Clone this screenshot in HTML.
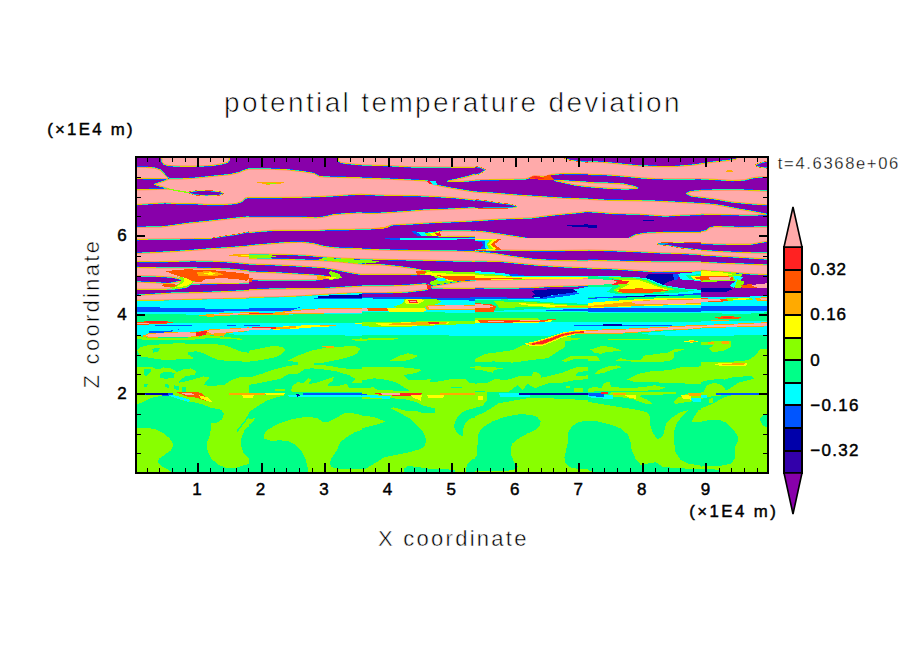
<!DOCTYPE html>
<html lang="en"><head><meta charset="utf-8"><title>potential temperature deviation</title>
<style>html,body{margin:0;padding:0;background:#fff}svg{display:block}text{font-family:"Liberation Sans",sans-serif;fill:#000}.thin{stroke:#fff;stroke-width:0.7px}.thinm{stroke:#fff;stroke-width:0.45px}.thin2{stroke:#fff;stroke-width:0.3px}.bold{stroke:#000;stroke-width:0.45px}</style></head><body>
<svg width="904" height="654" viewBox="0 0 904 654">
<rect width="904" height="654" fill="#fff"/>
<clipPath id="plotclip"><rect x="136" y="157" width="632" height="316"/></clipPath>
<g clip-path="url(#plotclip)" shape-rendering="crispEdges">
<clipPath id="c0"><rect x="0" y="0" width="113" height="82"/></clipPath>
<g transform="translate(136,156)" clip-path="url(#c0)">
<rect x="-1" y="-1" width="115" height="84" fill="#8800aa"/>
<polygon points="25.6,-2.5 26.2,5.6 28.1,8.1 32.5,9.4 43.8,10 60,10 75,9.4 85,7.8 91.2,6.3 93.1,3.8 93.1,-2.5" fill="#ffaaaa" stroke="#0055ff" stroke-width="2.4" stroke-linejoin="round"/>
<polygon points="25.6,-2.5 26.2,5.6 28.1,8.1 32.5,9.4 43.8,10 60,10 75,9.4 85,7.8 91.2,6.3 93.1,3.8 93.1,-2.5" fill="#ffaaaa" stroke="#00ffcc" stroke-width="1.7" stroke-linejoin="round"/>
<polygon points="25.6,-2.5 26.2,5.6 28.1,8.1 32.5,9.4 43.8,10 60,10 75,9.4 85,7.8 91.2,6.3 93.1,3.8 93.1,-2.5" fill="#ffaaaa" stroke="#ccff00" stroke-width="1.0" stroke-linejoin="round"/>
<polygon points="25.6,-2.5 26.2,5.6 28.1,8.1 32.5,9.4 43.8,10 60,10 75,9.4 85,7.8 91.2,6.3 93.1,3.8 93.1,-2.5" fill="#ffaaaa" stroke="#ff7700" stroke-width="0.5" stroke-linejoin="round"/>
<polygon points="-2.5,11.3 10,11.5 18.8,12.3 23.8,14 27.5,17.6 30.6,21.1 32.8,22.6 -2.5,22.2" fill="#ffaaaa" stroke="#0055ff" stroke-width="2.4" stroke-linejoin="round"/>
<polygon points="-2.5,11.3 10,11.5 18.8,12.3 23.8,14 27.5,17.6 30.6,21.1 32.8,22.6 -2.5,22.2" fill="#ffaaaa" stroke="#00ffcc" stroke-width="1.7" stroke-linejoin="round"/>
<polygon points="-2.5,11.3 10,11.5 18.8,12.3 23.8,14 27.5,17.6 30.6,21.1 32.8,22.6 -2.5,22.2" fill="#ffaaaa" stroke="#ccff00" stroke-width="1.0" stroke-linejoin="round"/>
<polygon points="-2.5,11.3 10,11.5 18.8,12.3 23.8,14 27.5,17.6 30.6,21.1 32.8,22.6 -2.5,22.2" fill="#ffaaaa" stroke="#ff7700" stroke-width="0.5" stroke-linejoin="round"/>
<polygon points="-2.5,34.1 33.8,33.2 28.8,31.3 18.8,28.3 27.5,25.7 33.1,23.2 43.8,23.2 60,22.3 75,20.7 93.8,18.8 102.5,16.9 108.8,14.4 115,12.5 115,40.7 108.8,42 106.2,45.1 100,47.4 87.5,48.3 71.2,48.3 58.8,47.4 41.2,47.4 28.8,46.6 12.5,47.6 -2.5,48.6" fill="#ffaaaa" stroke="#0055ff" stroke-width="2.4" stroke-linejoin="round"/>
<polygon points="-2.5,34.1 33.8,33.2 28.8,31.3 18.8,28.3 27.5,25.7 33.1,23.2 43.8,23.2 60,22.3 75,20.7 93.8,18.8 102.5,16.9 108.8,14.4 115,12.5 115,40.7 108.8,42 106.2,45.1 100,47.4 87.5,48.3 71.2,48.3 58.8,47.4 41.2,47.4 28.8,46.6 12.5,47.6 -2.5,48.6" fill="#ffaaaa" stroke="#00ffcc" stroke-width="1.7" stroke-linejoin="round"/>
<polygon points="-2.5,34.1 33.8,33.2 28.8,31.3 18.8,28.3 27.5,25.7 33.1,23.2 43.8,23.2 60,22.3 75,20.7 93.8,18.8 102.5,16.9 108.8,14.4 115,12.5 115,40.7 108.8,42 106.2,45.1 100,47.4 87.5,48.3 71.2,48.3 58.8,47.4 41.2,47.4 28.8,46.6 12.5,47.6 -2.5,48.6" fill="#ffaaaa" stroke="#ccff00" stroke-width="1.0" stroke-linejoin="round"/>
<polygon points="-2.5,34.1 33.8,33.2 28.8,31.3 18.8,28.3 27.5,25.7 33.1,23.2 43.8,23.2 60,22.3 75,20.7 93.8,18.8 102.5,16.9 108.8,14.4 115,12.5 115,40.7 108.8,42 106.2,45.1 100,47.4 87.5,48.3 71.2,48.3 58.8,47.4 41.2,47.4 28.8,46.6 12.5,47.6 -2.5,48.6" fill="#ffaaaa" stroke="#ff7700" stroke-width="0.5" stroke-linejoin="round"/>
<polyline points="32.8,33 41.2,34.7 50,36.2 54.5,36.9" fill="none" stroke="#88ff00" stroke-width="1.2" stroke-linejoin="round" stroke-linecap="round"/>
<polygon points="53.8,36.6 62.5,35.2 75,35.5 83.8,36.5 86.5,37.4 82.5,38.6 70,39.1 58.8,38.2" fill="#8800aa" stroke="#ff5500" stroke-width="2.4" stroke-linejoin="round"/>
<polygon points="53.8,36.6 62.5,35.2 75,35.5 83.8,36.5 86.5,37.4 82.5,38.6 70,39.1 58.8,38.2" fill="#8800aa" stroke="#eeff00" stroke-width="1.7" stroke-linejoin="round"/>
<polygon points="53.8,36.6 62.5,35.2 75,35.5 83.8,36.5 86.5,37.4 82.5,38.6 70,39.1 58.8,38.2" fill="#8800aa" stroke="#00ffcc" stroke-width="1.0" stroke-linejoin="round"/>
<polygon points="53.8,36.6 62.5,35.2 75,35.5 83.8,36.5 86.5,37.4 82.5,38.6 70,39.1 58.8,38.2" fill="#8800aa" stroke="#0044ff" stroke-width="0.5" stroke-linejoin="round"/>
<polygon points="-2.5,71.5 25,71.2 37.5,69.6 50,67.7 68.8,65.8 87.5,63.7 100,62.4 115,60.9 115,87.8 -2.5,87.8" fill="#ffaaaa" stroke="#0055ff" stroke-width="2.4" stroke-linejoin="round"/>
<polygon points="-2.5,71.5 25,71.2 37.5,69.6 50,67.7 68.8,65.8 87.5,63.7 100,62.4 115,60.9 115,87.8 -2.5,87.8" fill="#ffaaaa" stroke="#00ffcc" stroke-width="1.7" stroke-linejoin="round"/>
<polygon points="-2.5,71.5 25,71.2 37.5,69.6 50,67.7 68.8,65.8 87.5,63.7 100,62.4 115,60.9 115,87.8 -2.5,87.8" fill="#ffaaaa" stroke="#ccff00" stroke-width="1.0" stroke-linejoin="round"/>
<polygon points="-2.5,71.5 25,71.2 37.5,69.6 50,67.7 68.8,65.8 87.5,63.7 100,62.4 115,60.9 115,87.8 -2.5,87.8" fill="#ffaaaa" stroke="#ff7700" stroke-width="0.5" stroke-linejoin="round"/>
<polygon points="72.5,83.4 87.5,80.9 100,79.2 115,76 115,87.8 72.5,87.8" fill="#8800aa" stroke="#ff5500" stroke-width="2.4" stroke-linejoin="round"/>
<polygon points="72.5,83.4 87.5,80.9 100,79.2 115,76 115,87.8 72.5,87.8" fill="#8800aa" stroke="#eeff00" stroke-width="1.7" stroke-linejoin="round"/>
<polygon points="72.5,83.4 87.5,80.9 100,79.2 115,76 115,87.8 72.5,87.8" fill="#8800aa" stroke="#00ffcc" stroke-width="1.0" stroke-linejoin="round"/>
<polygon points="72.5,83.4 87.5,80.9 100,79.2 115,76 115,87.8 72.5,87.8" fill="#8800aa" stroke="#0044ff" stroke-width="0.5" stroke-linejoin="round"/>
</g>
<clipPath id="c1"><rect x="0" y="0" width="113" height="82"/></clipPath>
<g transform="translate(249,156)" clip-path="url(#c1)">
<rect x="-1" y="-1" width="115" height="84" fill="#8800aa"/>
<polygon points="89.4,-2.5 89.8,5 92.5,6.5 100,7.5 115,8.8 115,-2.5" fill="#ffaaaa" stroke="#0055ff" stroke-width="2.4" stroke-linejoin="round"/>
<polygon points="89.4,-2.5 89.8,5 92.5,6.5 100,7.5 115,8.8 115,-2.5" fill="#ffaaaa" stroke="#00ffcc" stroke-width="1.7" stroke-linejoin="round"/>
<polygon points="89.4,-2.5 89.8,5 92.5,6.5 100,7.5 115,8.8 115,-2.5" fill="#ffaaaa" stroke="#ccff00" stroke-width="1.0" stroke-linejoin="round"/>
<polygon points="89.4,-2.5 89.8,5 92.5,6.5 100,7.5 115,8.8 115,-2.5" fill="#ffaaaa" stroke="#ff7700" stroke-width="0.5" stroke-linejoin="round"/>
<polygon points="-2.5,13.2 18.8,13.2 37.5,14 52.5,15.7 65,17.6 70,20.7 77.5,21.3 92.5,21.6 115,22.1 115,37.9 100,38.6 87.5,39.5 68.8,40.4 50,41.1 25,41.4 -2.5,41.4" fill="#ffaaaa" stroke="#0055ff" stroke-width="2.4" stroke-linejoin="round"/>
<polygon points="-2.5,13.2 18.8,13.2 37.5,14 52.5,15.7 65,17.6 70,20.7 77.5,21.3 92.5,21.6 115,22.1 115,37.9 100,38.6 87.5,39.5 68.8,40.4 50,41.1 25,41.4 -2.5,41.4" fill="#ffaaaa" stroke="#00ffcc" stroke-width="1.7" stroke-linejoin="round"/>
<polygon points="-2.5,13.2 18.8,13.2 37.5,14 52.5,15.7 65,17.6 70,20.7 77.5,21.3 92.5,21.6 115,22.1 115,37.9 100,38.6 87.5,39.5 68.8,40.4 50,41.1 25,41.4 -2.5,41.4" fill="#ffaaaa" stroke="#ccff00" stroke-width="1.0" stroke-linejoin="round"/>
<polygon points="-2.5,13.2 18.8,13.2 37.5,14 52.5,15.7 65,17.6 70,20.7 77.5,21.3 92.5,21.6 115,22.1 115,37.9 100,38.6 87.5,39.5 68.8,40.4 50,41.1 25,41.4 -2.5,41.4" fill="#ffaaaa" stroke="#ff7700" stroke-width="0.5" stroke-linejoin="round"/>
<polygon points="8.1,26.5 18.8,25.7 35.6,26.3 30,28.3 17.5,28.6" fill="#ffaa00"/>
<polygon points="16.2,26.7 28.8,26.6 26.2,27.7 18.8,27.8" fill="#88ff00"/>
<polygon points="-2.5,61.4 25,61.4 50,61.4 67.5,62.1 75,61.2 85,58.9 97.5,57.9 115,56.9 115,72.6 100,73.3 81.2,73.3 68.8,74.2 50,74.2 25,74.2 12.5,75 -2.5,76.6" fill="#ffaaaa" stroke="#0055ff" stroke-width="2.4" stroke-linejoin="round"/>
<polygon points="-2.5,61.4 25,61.4 50,61.4 67.5,62.1 75,61.2 85,58.9 97.5,57.9 115,56.9 115,72.6 100,73.3 81.2,73.3 68.8,74.2 50,74.2 25,74.2 12.5,75 -2.5,76.6" fill="#ffaaaa" stroke="#00ffcc" stroke-width="1.7" stroke-linejoin="round"/>
<polygon points="-2.5,61.4 25,61.4 50,61.4 67.5,62.1 75,61.2 85,58.9 97.5,57.9 115,56.9 115,72.6 100,73.3 81.2,73.3 68.8,74.2 50,74.2 25,74.2 12.5,75 -2.5,76.6" fill="#ffaaaa" stroke="#ccff00" stroke-width="1.0" stroke-linejoin="round"/>
<polygon points="-2.5,61.4 25,61.4 50,61.4 67.5,62.1 75,61.2 85,58.9 97.5,57.9 115,56.9 115,72.6 100,73.3 81.2,73.3 68.8,74.2 50,74.2 25,74.2 12.5,75 -2.5,76.6" fill="#ffaaaa" stroke="#ff7700" stroke-width="0.5" stroke-linejoin="round"/>
</g>
<clipPath id="c2"><rect x="0" y="0" width="113" height="82"/></clipPath>
<g transform="translate(362,156)" clip-path="url(#c2)">
<rect x="-1" y="-1" width="115" height="84" fill="#8800aa"/>
<polygon points="-2.5,-2.5 115,-2.5 115,11.3 87.5,11 50,10.7 25,9.4 -2.5,8.7" fill="#ffaaaa" stroke="#0055ff" stroke-width="2.4" stroke-linejoin="round"/>
<polygon points="-2.5,-2.5 115,-2.5 115,11.3 87.5,11 50,10.7 25,9.4 -2.5,8.7" fill="#ffaaaa" stroke="#00ffcc" stroke-width="1.7" stroke-linejoin="round"/>
<polygon points="-2.5,-2.5 115,-2.5 115,11.3 87.5,11 50,10.7 25,9.4 -2.5,8.7" fill="#ffaaaa" stroke="#ccff00" stroke-width="1.0" stroke-linejoin="round"/>
<polygon points="-2.5,-2.5 115,-2.5 115,11.3 87.5,11 50,10.7 25,9.4 -2.5,8.7" fill="#ffaaaa" stroke="#ff7700" stroke-width="0.5" stroke-linejoin="round"/>
<polygon points="-2.5,22.3 25,23.2 50,24.4 65,25.1 70,28.2 77.5,30.1 93.8,33.2 115,36.6 115,44.1 93.8,41.6 75,40.4 56.2,39.5 25,39.1 -2.5,38.1" fill="#ffaaaa" stroke="#0055ff" stroke-width="2.4" stroke-linejoin="round"/>
<polygon points="-2.5,22.3 25,23.2 50,24.4 65,25.1 70,28.2 77.5,30.1 93.8,33.2 115,36.6 115,44.1 93.8,41.6 75,40.4 56.2,39.5 25,39.1 -2.5,38.1" fill="#ffaaaa" stroke="#00ffcc" stroke-width="1.7" stroke-linejoin="round"/>
<polygon points="-2.5,22.3 25,23.2 50,24.4 65,25.1 70,28.2 77.5,30.1 93.8,33.2 115,36.6 115,44.1 93.8,41.6 75,40.4 56.2,39.5 25,39.1 -2.5,38.1" fill="#ffaaaa" stroke="#ccff00" stroke-width="1.0" stroke-linejoin="round"/>
<polygon points="-2.5,22.3 25,23.2 50,24.4 65,25.1 70,28.2 77.5,30.1 93.8,33.2 115,36.6 115,44.1 93.8,41.6 75,40.4 56.2,39.5 25,39.1 -2.5,38.1" fill="#ffaaaa" stroke="#ff7700" stroke-width="0.5" stroke-linejoin="round"/>
<polygon points="86.2,25.2 97.5,22.8 106.2,20.7 115,17.9 115,24.2 100,25.1" fill="#ffaaaa" stroke="#0055ff" stroke-width="2.4" stroke-linejoin="round"/>
<polygon points="86.2,25.2 97.5,22.8 106.2,20.7 115,17.9 115,24.2 100,25.1" fill="#ffaaaa" stroke="#00ffcc" stroke-width="1.7" stroke-linejoin="round"/>
<polygon points="86.2,25.2 97.5,22.8 106.2,20.7 115,17.9 115,24.2 100,25.1" fill="#ffaaaa" stroke="#ccff00" stroke-width="1.0" stroke-linejoin="round"/>
<polygon points="86.2,25.2 97.5,22.8 106.2,20.7 115,17.9 115,24.2 100,25.1" fill="#ffaaaa" stroke="#ff7700" stroke-width="0.5" stroke-linejoin="round"/>
<polygon points="-2.5,57.4 12.5,57.7 25,57 43.8,55.8 62.5,54.2 87.5,53.3 115,51.9 115,64.4 100,65.2 75,66.2 50,67.7 30,68.7 22.5,71.5 8.8,72.7 -2.5,72.7" fill="#ffaaaa" stroke="#0055ff" stroke-width="2.4" stroke-linejoin="round"/>
<polygon points="-2.5,57.4 12.5,57.7 25,57 43.8,55.8 62.5,54.2 87.5,53.3 115,51.9 115,64.4 100,65.2 75,66.2 50,67.7 30,68.7 22.5,71.5 8.8,72.7 -2.5,72.7" fill="#ffaaaa" stroke="#00ffcc" stroke-width="1.7" stroke-linejoin="round"/>
<polygon points="-2.5,57.4 12.5,57.7 25,57 43.8,55.8 62.5,54.2 87.5,53.3 115,51.9 115,64.4 100,65.2 75,66.2 50,67.7 30,68.7 22.5,71.5 8.8,72.7 -2.5,72.7" fill="#ffaaaa" stroke="#ccff00" stroke-width="1.0" stroke-linejoin="round"/>
<polygon points="-2.5,57.4 12.5,57.7 25,57 43.8,55.8 62.5,54.2 87.5,53.3 115,51.9 115,64.4 100,65.2 75,66.2 50,67.7 30,68.7 22.5,71.5 8.8,72.7 -2.5,72.7" fill="#ffaaaa" stroke="#ff7700" stroke-width="0.5" stroke-linejoin="round"/>
<polygon points="75,76.2 81.2,75.2 100,75 115,75.6 115,80.5 102.5,80.2 77.5,80.2 73.8,79" fill="#ffaaaa" stroke="#0055ff" stroke-width="2.4" stroke-linejoin="round"/>
<polygon points="75,76.2 81.2,75.2 100,75 115,75.6 115,80.5 102.5,80.2 77.5,80.2 73.8,79" fill="#ffaaaa" stroke="#00ffcc" stroke-width="1.7" stroke-linejoin="round"/>
<polygon points="75,76.2 81.2,75.2 100,75 115,75.6 115,80.5 102.5,80.2 77.5,80.2 73.8,79" fill="#ffaaaa" stroke="#ccff00" stroke-width="1.0" stroke-linejoin="round"/>
<polygon points="75,76.2 81.2,75.2 100,75 115,75.6 115,80.5 102.5,80.2 77.5,80.2 73.8,79" fill="#ffaaaa" stroke="#ff7700" stroke-width="0.5" stroke-linejoin="round"/>
<polygon points="49,75 60,76.2 71.2,75.7 75,78 70,80.5 56.2,80.2" fill="#0055ff"/>
<polygon points="55,76.2 65,76.6 73.8,75.9 77.5,78 72.5,80.5 60,80.2" fill="#00ffff"/>
<polygon points="62.5,77.2 70,76.6 76.9,75.7 80,78 75.6,80.4 66.2,80.2" fill="#88ff00"/>
<polygon points="67.5,77.6 75,76.5 80,75.6 81.9,78 78.8,80.2 71.2,80.2" fill="#ffff00"/>
<polygon points="73.1,77.2 80,75.9 84,75.7 84,80.2 76.2,80.2" fill="#ff2222"/>
<polygon points="78.1,76.5 85,75.6 85,80 78.8,79.7" fill="#ffaaaa"/>
<polygon points="67.5,25.5 74,25.1 75.2,28.6 71.2,29.2" fill="#00ffff"/>
<polygon points="64.8,25 68.5,25.6 70.2,28.7 67.5,27.8" fill="#ff2222"/>
<polygon points="8.8,72.6 22.5,71 29,69 25.6,72.1 12.5,73.5" fill="#ffaa00"/>
</g>
<clipPath id="c3"><rect x="0" y="0" width="113" height="82"/></clipPath>
<g transform="translate(475,156)" clip-path="url(#c3)">
<rect x="-1" y="-1" width="115" height="84" fill="#8800aa"/>
<polygon points="-2.5,-2.5 115,-2.5 115,17.6 87.5,17.3 76.2,18.3 70,20.3 58.8,19.6 55,21.3 50,22.8 25,23.3 -2.5,23.8" fill="#ffaaaa" stroke="#0055ff" stroke-width="2.4" stroke-linejoin="round"/>
<polygon points="-2.5,-2.5 115,-2.5 115,17.6 87.5,17.3 76.2,18.3 70,20.3 58.8,19.6 55,21.3 50,22.8 25,23.3 -2.5,23.8" fill="#ffaaaa" stroke="#00ffcc" stroke-width="1.7" stroke-linejoin="round"/>
<polygon points="-2.5,-2.5 115,-2.5 115,17.6 87.5,17.3 76.2,18.3 70,20.3 58.8,19.6 55,21.3 50,22.8 25,23.3 -2.5,23.8" fill="#ffaaaa" stroke="#ccff00" stroke-width="1.0" stroke-linejoin="round"/>
<polygon points="-2.5,-2.5 115,-2.5 115,17.6 87.5,17.3 76.2,18.3 70,20.3 58.8,19.6 55,21.3 50,22.8 25,23.3 -2.5,23.8" fill="#ffaaaa" stroke="#ff7700" stroke-width="0.5" stroke-linejoin="round"/>
<polygon points="-2.5,11 5,11.9 9.4,14 5,16.9 -2.5,19.1" fill="#8800aa" stroke="#ff5500" stroke-width="2.4" stroke-linejoin="round"/>
<polygon points="-2.5,11 5,11.9 9.4,14 5,16.9 -2.5,19.1" fill="#8800aa" stroke="#eeff00" stroke-width="1.7" stroke-linejoin="round"/>
<polygon points="-2.5,11 5,11.9 9.4,14 5,16.9 -2.5,19.1" fill="#8800aa" stroke="#00ffcc" stroke-width="1.0" stroke-linejoin="round"/>
<polygon points="-2.5,11 5,11.9 9.4,14 5,16.9 -2.5,19.1" fill="#8800aa" stroke="#0044ff" stroke-width="0.5" stroke-linejoin="round"/>
<polygon points="89.4,-2.5 90.2,1.8 95,3.5 106.2,5 115,5.8 115,-2.5" fill="#8800aa" stroke="#ff5500" stroke-width="2.4" stroke-linejoin="round"/>
<polygon points="89.4,-2.5 90.2,1.8 95,3.5 106.2,5 115,5.8 115,-2.5" fill="#8800aa" stroke="#eeff00" stroke-width="1.7" stroke-linejoin="round"/>
<polygon points="89.4,-2.5 90.2,1.8 95,3.5 106.2,5 115,5.8 115,-2.5" fill="#8800aa" stroke="#00ffcc" stroke-width="1.0" stroke-linejoin="round"/>
<polygon points="89.4,-2.5 90.2,1.8 95,3.5 106.2,5 115,5.8 115,-2.5" fill="#8800aa" stroke="#0044ff" stroke-width="0.5" stroke-linejoin="round"/>
<polygon points="53.8,22.3 58.8,19.6 67.5,20.8 75,18.8 79.4,23.8 70,24.1 60,23.3" fill="#ff5500"/>
<polygon points="56.2,21.6 59.4,20.1 66.2,21.3 70,23.2 61.2,22.9" fill="#ff2222"/>
<polygon points="80,24.4 90,25.1 100,25.7 115,26.6 115,30.8 100,28.8 90,26.6" fill="#ffaaaa" stroke="#0055ff" stroke-width="2.4" stroke-linejoin="round"/>
<polygon points="80,24.4 90,25.1 100,25.7 115,26.6 115,30.8 100,28.8 90,26.6" fill="#ffaaaa" stroke="#00ffcc" stroke-width="1.7" stroke-linejoin="round"/>
<polygon points="80,24.4 90,25.1 100,25.7 115,26.6 115,30.8 100,28.8 90,26.6" fill="#ffaaaa" stroke="#ccff00" stroke-width="1.0" stroke-linejoin="round"/>
<polygon points="80,24.4 90,25.1 100,25.7 115,26.6 115,30.8 100,28.8 90,26.6" fill="#ffaaaa" stroke="#ff7700" stroke-width="0.5" stroke-linejoin="round"/>
<polygon points="-2.5,36.1 18.8,37.4 43.8,39.5 68.8,41.1 87.5,42.4 115,43.4 115,54.9 103.8,56.4 93.8,57.3 75,59.2 56.2,61.7 25,62.9 -2.5,64.7" fill="#ffaaaa" stroke="#0055ff" stroke-width="2.4" stroke-linejoin="round"/>
<polygon points="-2.5,36.1 18.8,37.4 43.8,39.5 68.8,41.1 87.5,42.4 115,43.4 115,54.9 103.8,56.4 93.8,57.3 75,59.2 56.2,61.7 25,62.9 -2.5,64.7" fill="#ffaaaa" stroke="#00ffcc" stroke-width="1.7" stroke-linejoin="round"/>
<polygon points="-2.5,36.1 18.8,37.4 43.8,39.5 68.8,41.1 87.5,42.4 115,43.4 115,54.9 103.8,56.4 93.8,57.3 75,59.2 56.2,61.7 25,62.9 -2.5,64.7" fill="#ffaaaa" stroke="#ccff00" stroke-width="1.0" stroke-linejoin="round"/>
<polygon points="-2.5,36.1 18.8,37.4 43.8,39.5 68.8,41.1 87.5,42.4 115,43.4 115,54.9 103.8,56.4 93.8,57.3 75,59.2 56.2,61.7 25,62.9 -2.5,64.7" fill="#ffaaaa" stroke="#ff7700" stroke-width="0.5" stroke-linejoin="round"/>
<polygon points="-2.5,43.9 12.5,45.8 28.8,48.3 36.2,49.1 41.2,50.8 31.2,51.4 12.5,51.4 -2.5,51.8" fill="#8800aa" stroke="#ff5500" stroke-width="2.4" stroke-linejoin="round"/>
<polygon points="-2.5,43.9 12.5,45.8 28.8,48.3 36.2,49.1 41.2,50.8 31.2,51.4 12.5,51.4 -2.5,51.8" fill="#8800aa" stroke="#eeff00" stroke-width="1.7" stroke-linejoin="round"/>
<polygon points="-2.5,43.9 12.5,45.8 28.8,48.3 36.2,49.1 41.2,50.8 31.2,51.4 12.5,51.4 -2.5,51.8" fill="#8800aa" stroke="#00ffcc" stroke-width="1.0" stroke-linejoin="round"/>
<polygon points="-2.5,43.9 12.5,45.8 28.8,48.3 36.2,49.1 41.2,50.8 31.2,51.4 12.5,51.4 -2.5,51.8" fill="#8800aa" stroke="#0044ff" stroke-width="0.5" stroke-linejoin="round"/>
<polygon points="90,69.2 115,68.3 115,71.5 100,71" fill="#0000aa"/>
<polygon points="-2.5,75 12.5,76.5 28.8,79 41.2,80.9 55,83.3 -2.5,83.3" fill="#ffaaaa" stroke="#0055ff" stroke-width="2.4" stroke-linejoin="round"/>
<polygon points="-2.5,75 12.5,76.5 28.8,79 41.2,80.9 55,83.3 -2.5,83.3" fill="#ffaaaa" stroke="#00ffcc" stroke-width="1.7" stroke-linejoin="round"/>
<polygon points="-2.5,75 12.5,76.5 28.8,79 41.2,80.9 55,83.3 -2.5,83.3" fill="#ffaaaa" stroke="#ccff00" stroke-width="1.0" stroke-linejoin="round"/>
<polygon points="-2.5,75 12.5,76.5 28.8,79 41.2,80.9 55,83.3 -2.5,83.3" fill="#ffaaaa" stroke="#ff7700" stroke-width="0.5" stroke-linejoin="round"/>
</g>
<clipPath id="c4"><rect x="0" y="0" width="113" height="82"/></clipPath>
<g transform="translate(588,156)" clip-path="url(#c4)">
<rect x="-1" y="-1" width="115" height="84" fill="#8800aa"/>
<polygon points="-2.5,6 15,6.5 31.2,8.1 50,10 68.8,10.7 87.5,10.7 103.8,9.4 115,7.9 115,22.6 87.5,22.8 68.8,22.6 52.5,21.6 37.5,20.1 18.8,18.6 -2.5,18.2" fill="#ffaaaa" stroke="#0055ff" stroke-width="2.4" stroke-linejoin="round"/>
<polygon points="-2.5,6 15,6.5 31.2,8.1 50,10 68.8,10.7 87.5,10.7 103.8,9.4 115,7.9 115,22.6 87.5,22.8 68.8,22.6 52.5,21.6 37.5,20.1 18.8,18.6 -2.5,18.2" fill="#ffaaaa" stroke="#00ffcc" stroke-width="1.7" stroke-linejoin="round"/>
<polygon points="-2.5,6 15,6.5 31.2,8.1 50,10 68.8,10.7 87.5,10.7 103.8,9.4 115,7.9 115,22.6 87.5,22.8 68.8,22.6 52.5,21.6 37.5,20.1 18.8,18.6 -2.5,18.2" fill="#ffaaaa" stroke="#ccff00" stroke-width="1.0" stroke-linejoin="round"/>
<polygon points="-2.5,6 15,6.5 31.2,8.1 50,10 68.8,10.7 87.5,10.7 103.8,9.4 115,7.9 115,22.6 87.5,22.8 68.8,22.6 52.5,21.6 37.5,20.1 18.8,18.6 -2.5,18.2" fill="#ffaaaa" stroke="#ff7700" stroke-width="0.5" stroke-linejoin="round"/>
<polygon points="-2.5,26.8 18.8,27.3 35,28.2 43.8,30.1 49.4,32 37.5,32.9 18.8,32 -2.5,30.2" fill="#ffaaaa" stroke="#0055ff" stroke-width="2.4" stroke-linejoin="round"/>
<polygon points="-2.5,26.8 18.8,27.3 35,28.2 43.8,30.1 49.4,32 37.5,32.9 18.8,32 -2.5,30.2" fill="#ffaaaa" stroke="#00ffcc" stroke-width="1.7" stroke-linejoin="round"/>
<polygon points="-2.5,26.8 18.8,27.3 35,28.2 43.8,30.1 49.4,32 37.5,32.9 18.8,32 -2.5,30.2" fill="#ffaaaa" stroke="#ccff00" stroke-width="1.0" stroke-linejoin="round"/>
<polygon points="-2.5,26.8 18.8,27.3 35,28.2 43.8,30.1 49.4,32 37.5,32.9 18.8,32 -2.5,30.2" fill="#ffaaaa" stroke="#ff7700" stroke-width="0.5" stroke-linejoin="round"/>
<polygon points="98.8,37.4 103.8,35.5 115,34.7 115,41.3 103.8,39.9" fill="#ffaaaa" stroke="#0055ff" stroke-width="2.4" stroke-linejoin="round"/>
<polygon points="98.8,37.4 103.8,35.5 115,34.7 115,41.3 103.8,39.9" fill="#ffaaaa" stroke="#00ffcc" stroke-width="1.7" stroke-linejoin="round"/>
<polygon points="98.8,37.4 103.8,35.5 115,34.7 115,41.3 103.8,39.9" fill="#ffaaaa" stroke="#ccff00" stroke-width="1.0" stroke-linejoin="round"/>
<polygon points="98.8,37.4 103.8,35.5 115,34.7 115,41.3 103.8,39.9" fill="#ffaaaa" stroke="#ff7700" stroke-width="0.5" stroke-linejoin="round"/>
<polygon points="-2.5,43.3 18.8,44.5 50,44.9 68.8,45.4 87.5,46.4 115,47.8 115,58.3 93.8,58.9 77.5,59.9 68.8,59.2 50,57.9 25,57.4 12.5,56.2 -2.5,55.2" fill="#ffaaaa" stroke="#0055ff" stroke-width="2.4" stroke-linejoin="round"/>
<polygon points="-2.5,43.3 18.8,44.5 50,44.9 68.8,45.4 87.5,46.4 115,47.8 115,58.3 93.8,58.9 77.5,59.9 68.8,59.2 50,57.9 25,57.4 12.5,56.2 -2.5,55.2" fill="#ffaaaa" stroke="#00ffcc" stroke-width="1.7" stroke-linejoin="round"/>
<polygon points="-2.5,43.3 18.8,44.5 50,44.9 68.8,45.4 87.5,46.4 115,47.8 115,58.3 93.8,58.9 77.5,59.9 68.8,59.2 50,57.9 25,57.4 12.5,56.2 -2.5,55.2" fill="#ffaaaa" stroke="#ccff00" stroke-width="1.0" stroke-linejoin="round"/>
<polygon points="-2.5,43.3 18.8,44.5 50,44.9 68.8,45.4 87.5,46.4 115,47.8 115,58.3 93.8,58.9 77.5,59.9 68.8,59.2 50,57.9 25,57.4 12.5,56.2 -2.5,55.2" fill="#ffaaaa" stroke="#ff7700" stroke-width="0.5" stroke-linejoin="round"/>
<polygon points="55,64.2 66.2,64.2 65,65.4 56.2,65.4" fill="#0000aa"/>
<polygon points="-2.5,68.7 9.4,68.7 9.4,71.5 -2.5,71.5" fill="#0000aa"/>
<polygon points="40,83.3 47.5,79.2 56.2,77.5 75,76.7 93.8,76.5 115,76.7 115,83.3" fill="#ffaaaa" stroke="#0055ff" stroke-width="2.4" stroke-linejoin="round"/>
<polygon points="40,83.3 47.5,79.2 56.2,77.5 75,76.7 93.8,76.5 115,76.7 115,83.3" fill="#ffaaaa" stroke="#00ffcc" stroke-width="1.7" stroke-linejoin="round"/>
<polygon points="40,83.3 47.5,79.2 56.2,77.5 75,76.7 93.8,76.5 115,76.7 115,83.3" fill="#ffaaaa" stroke="#ccff00" stroke-width="1.0" stroke-linejoin="round"/>
<polygon points="40,83.3 47.5,79.2 56.2,77.5 75,76.7 93.8,76.5 115,76.7 115,83.3" fill="#ffaaaa" stroke="#ff7700" stroke-width="0.5" stroke-linejoin="round"/>
</g>
<clipPath id="c5"><rect x="0" y="0" width="113" height="82"/></clipPath>
<g transform="translate(701,156)" clip-path="url(#c5)">
<rect x="-1" y="-1" width="115" height="84" fill="#8800aa"/>
<polygon points="-2.5,8.3 12.5,6.3 25,5 35,3.5 38.8,-2.5 115,-2.5 115,19.8 58.8,20.7 50,21.9 43.8,23.8 31.2,24.4 12.5,23.2 -2.5,22.6" fill="#ffaaaa" stroke="#0055ff" stroke-width="2.4" stroke-linejoin="round"/>
<polygon points="-2.5,8.3 12.5,6.3 25,5 35,3.5 38.8,-2.5 115,-2.5 115,19.8 58.8,20.7 50,21.9 43.8,23.8 31.2,24.4 12.5,23.2 -2.5,22.6" fill="#ffaaaa" stroke="#00ffcc" stroke-width="1.7" stroke-linejoin="round"/>
<polygon points="-2.5,8.3 12.5,6.3 25,5 35,3.5 38.8,-2.5 115,-2.5 115,19.8 58.8,20.7 50,21.9 43.8,23.8 31.2,24.4 12.5,23.2 -2.5,22.6" fill="#ffaaaa" stroke="#ccff00" stroke-width="1.0" stroke-linejoin="round"/>
<polygon points="-2.5,8.3 12.5,6.3 25,5 35,3.5 38.8,-2.5 115,-2.5 115,19.8 58.8,20.7 50,21.9 43.8,23.8 31.2,24.4 12.5,23.2 -2.5,22.6" fill="#ffaaaa" stroke="#ff7700" stroke-width="0.5" stroke-linejoin="round"/>
<polygon points="55,9.4 60,7.3 70,5.3 70,11.9 60,10.7" fill="#8800aa" stroke="#ff5500" stroke-width="2.4" stroke-linejoin="round"/>
<polygon points="55,9.4 60,7.3 70,5.3 70,11.9 60,10.7" fill="#8800aa" stroke="#eeff00" stroke-width="1.7" stroke-linejoin="round"/>
<polygon points="55,9.4 60,7.3 70,5.3 70,11.9 60,10.7" fill="#8800aa" stroke="#00ffcc" stroke-width="1.0" stroke-linejoin="round"/>
<polygon points="55,9.4 60,7.3 70,5.3 70,11.9 60,10.7" fill="#8800aa" stroke="#0044ff" stroke-width="0.5" stroke-linejoin="round"/>
<polygon points="21.2,15 28.8,14.2 35,15 28.8,16" fill="#ffaa00"/>
<polygon points="-2.5,34.5 37.5,34.1 70,35.5 70,48.9 50,47.6 31.2,45.8 12.5,42.6 -2.5,40.7" fill="#ffaaaa" stroke="#0055ff" stroke-width="2.4" stroke-linejoin="round"/>
<polygon points="-2.5,34.5 37.5,34.1 70,35.5 70,48.9 50,47.6 31.2,45.8 12.5,42.6 -2.5,40.7" fill="#ffaaaa" stroke="#00ffcc" stroke-width="1.7" stroke-linejoin="round"/>
<polygon points="-2.5,34.5 37.5,34.1 70,35.5 70,48.9 50,47.6 31.2,45.8 12.5,42.6 -2.5,40.7" fill="#ffaaaa" stroke="#ccff00" stroke-width="1.0" stroke-linejoin="round"/>
<polygon points="-2.5,34.5 37.5,34.1 70,35.5 70,48.9 50,47.6 31.2,45.8 12.5,42.6 -2.5,40.7" fill="#ffaaaa" stroke="#ff7700" stroke-width="0.5" stroke-linejoin="round"/>
<polygon points="-2.5,47.6 12.5,48.6 25,50.8 37.5,53.3 50,55.4 65,58.4 50,58.9 25,58.4 -2.5,57.9" fill="#ffaaaa" stroke="#0055ff" stroke-width="2.4" stroke-linejoin="round"/>
<polygon points="-2.5,47.6 12.5,48.6 25,50.8 37.5,53.3 50,55.4 65,58.4 50,58.9 25,58.4 -2.5,57.9" fill="#ffaaaa" stroke="#00ffcc" stroke-width="1.7" stroke-linejoin="round"/>
<polygon points="-2.5,47.6 12.5,48.6 25,50.8 37.5,53.3 50,55.4 65,58.4 50,58.9 25,58.4 -2.5,57.9" fill="#ffaaaa" stroke="#ccff00" stroke-width="1.0" stroke-linejoin="round"/>
<polygon points="-2.5,47.6 12.5,48.6 25,50.8 37.5,53.3 50,55.4 65,58.4 50,58.9 25,58.4 -2.5,57.9" fill="#ffaaaa" stroke="#ff7700" stroke-width="0.5" stroke-linejoin="round"/>
<polygon points="-2.5,76 5,75.2 8.8,72.1 13.8,70.8 37.5,71.5 70,71.2 70,87.8 -2.5,87.8" fill="#ffaaaa" stroke="#0055ff" stroke-width="2.4" stroke-linejoin="round"/>
<polygon points="-2.5,76 5,75.2 8.8,72.1 13.8,70.8 37.5,71.5 70,71.2 70,87.8 -2.5,87.8" fill="#ffaaaa" stroke="#00ffcc" stroke-width="1.7" stroke-linejoin="round"/>
<polygon points="-2.5,76 5,75.2 8.8,72.1 13.8,70.8 37.5,71.5 70,71.2 70,87.8 -2.5,87.8" fill="#ffaaaa" stroke="#ccff00" stroke-width="1.0" stroke-linejoin="round"/>
<polygon points="-2.5,76 5,75.2 8.8,72.1 13.8,70.8 37.5,71.5 70,71.2 70,87.8 -2.5,87.8" fill="#ffaaaa" stroke="#ff7700" stroke-width="0.5" stroke-linejoin="round"/>
</g>
<clipPath id="c6"><rect x="0" y="0" width="113" height="82"/></clipPath>
<g transform="translate(136,238)" clip-path="url(#c6)">
<rect x="-1" y="-1" width="115" height="84" fill="#8800aa"/>
<polygon points="-2.5,-2.5 77.5,-2.5 75,0.3 50,0.6 12.5,1 -2.5,1.5" fill="#ffaaaa" stroke="#0055ff" stroke-width="2.4" stroke-linejoin="round"/>
<polygon points="-2.5,-2.5 77.5,-2.5 75,0.3 50,0.6 12.5,1 -2.5,1.5" fill="#ffaaaa" stroke="#00ffcc" stroke-width="1.7" stroke-linejoin="round"/>
<polygon points="-2.5,-2.5 77.5,-2.5 75,0.3 50,0.6 12.5,1 -2.5,1.5" fill="#ffaaaa" stroke="#ccff00" stroke-width="1.0" stroke-linejoin="round"/>
<polygon points="-2.5,-2.5 77.5,-2.5 75,0.3 50,0.6 12.5,1 -2.5,1.5" fill="#ffaaaa" stroke="#ff7700" stroke-width="0.5" stroke-linejoin="round"/>
<polygon points="-2.5,15.7 18.8,14.8 37.5,13.8 56.2,12.5 75,11 93.8,9.8 115,8 115,25.8 93.8,23.8 75,22.9 56.2,22.6 37.5,23.2 18.8,23.6 -2.5,23.2" fill="#ffaaaa" stroke="#0055ff" stroke-width="2.4" stroke-linejoin="round"/>
<polygon points="-2.5,15.7 18.8,14.8 37.5,13.8 56.2,12.5 75,11 93.8,9.8 115,8 115,25.8 93.8,23.8 75,22.9 56.2,22.6 37.5,23.2 18.8,23.6 -2.5,23.2" fill="#ffaaaa" stroke="#00ffcc" stroke-width="1.7" stroke-linejoin="round"/>
<polygon points="-2.5,15.7 18.8,14.8 37.5,13.8 56.2,12.5 75,11 93.8,9.8 115,8 115,25.8 93.8,23.8 75,22.9 56.2,22.6 37.5,23.2 18.8,23.6 -2.5,23.2" fill="#ffaaaa" stroke="#ccff00" stroke-width="1.0" stroke-linejoin="round"/>
<polygon points="-2.5,15.7 18.8,14.8 37.5,13.8 56.2,12.5 75,11 93.8,9.8 115,8 115,25.8 93.8,23.8 75,22.9 56.2,22.6 37.5,23.2 18.8,23.6 -2.5,23.2" fill="#ffaaaa" stroke="#ff7700" stroke-width="0.5" stroke-linejoin="round"/>
<polygon points="91.2,17.3 100,16 115,15.7 115,19.1 102.5,18.6" fill="#ffaa00"/>
<polygon points="102.5,16.9 115,16.6 115,18.3 106.2,17.9" fill="#ffff00"/>
<polygon points="-2.5,29.6 25,30.1 50,30.1 75,30.7 93.8,31.3 115,33.4 115,44.9 93.8,45.1 75,45.4 55,45.9 50,43.9 45,41.1 37.5,39.1 18.8,37.9 -2.5,37.6" fill="#ffaaaa" stroke="#0055ff" stroke-width="2.4" stroke-linejoin="round"/>
<polygon points="-2.5,29.6 25,30.1 50,30.1 75,30.7 93.8,31.3 115,33.4 115,44.9 93.8,45.1 75,45.4 55,45.9 50,43.9 45,41.1 37.5,39.1 18.8,37.9 -2.5,37.6" fill="#ffaaaa" stroke="#00ffcc" stroke-width="1.7" stroke-linejoin="round"/>
<polygon points="-2.5,29.6 25,30.1 50,30.1 75,30.7 93.8,31.3 115,33.4 115,44.9 93.8,45.1 75,45.4 55,45.9 50,43.9 45,41.1 37.5,39.1 18.8,37.9 -2.5,37.6" fill="#ffaaaa" stroke="#ccff00" stroke-width="1.0" stroke-linejoin="round"/>
<polygon points="-2.5,29.6 25,30.1 50,30.1 75,30.7 93.8,31.3 115,33.4 115,44.9 93.8,45.1 75,45.4 55,45.9 50,43.9 45,41.1 37.5,39.1 18.8,37.9 -2.5,37.6" fill="#ffaaaa" stroke="#ff7700" stroke-width="0.5" stroke-linejoin="round"/>
<polygon points="-2.5,44.1 18.8,44.9 32.5,45.9 42.5,43.9 50,44.1 55,45.9 50,49.1 37.5,50.9 18.8,51.2 -2.5,51.2" fill="#ffaaaa" stroke="#0055ff" stroke-width="2.4" stroke-linejoin="round"/>
<polygon points="-2.5,44.1 18.8,44.9 32.5,45.9 42.5,43.9 50,44.1 55,45.9 50,49.1 37.5,50.9 18.8,51.2 -2.5,51.2" fill="#ffaaaa" stroke="#00ffcc" stroke-width="1.7" stroke-linejoin="round"/>
<polygon points="-2.5,44.1 18.8,44.9 32.5,45.9 42.5,43.9 50,44.1 55,45.9 50,49.1 37.5,50.9 18.8,51.2 -2.5,51.2" fill="#ffaaaa" stroke="#ccff00" stroke-width="1.0" stroke-linejoin="round"/>
<polygon points="-2.5,44.1 18.8,44.9 32.5,45.9 42.5,43.9 50,44.1 55,45.9 50,49.1 37.5,50.9 18.8,51.2 -2.5,51.2" fill="#ffaaaa" stroke="#ff7700" stroke-width="0.5" stroke-linejoin="round"/>
<polygon points="41.2,38.4 52.5,40.4 58.8,43.3 55,46.6 47.5,49.9 37.5,50.9 33.8,49.7 40,47.4 45,43.9 45.2,41.1" fill="#88ff00"/>
<polygon points="47.5,39.5 56.2,42 56.2,44.9 48.8,48.3 38.8,49.7 42.5,47.4 48.1,44.1" fill="#ffff00"/>
<polygon points="28.8,33.1 50,31.3 75,32 100,34.5 115,36.4 115,39.1 110,43.3 100,41.6 81.2,40.4 70,40.9 65,43.9 56.2,43.3 51.2,40.4 41.2,37.6" fill="#ff5500"/>
<polygon points="60,34.7 70,32.9 82.5,34.5 87.5,37 75,38.2 62.5,37.6" fill="#ffaa00"/>
<polygon points="67.5,35.4 75,34.1 80,35.7 75,37.1" fill="#ffff00"/>
<polygon points="70,40.9 87.5,40.1 108.8,42 107.5,44.5 87.5,44.6 72.5,43.4" fill="#ffaaaa"/>
<polygon points="25,46.6 37.5,46.1 41.2,47.4 37.5,49.1 28.8,49.1" fill="#ff5500"/>
<polygon points="-2.5,57.7 18.8,56.4 37.5,55.2 62.5,54.9 87.5,53.9 115,52.7 115,59.9 100,60.2 75,60.8 50,61.4 25,62.1 -2.5,62.1" fill="#ffaaaa" stroke="#0055ff" stroke-width="2.4" stroke-linejoin="round"/>
<polygon points="-2.5,57.7 18.8,56.4 37.5,55.2 62.5,54.9 87.5,53.9 115,52.7 115,59.9 100,60.2 75,60.8 50,61.4 25,62.1 -2.5,62.1" fill="#ffaaaa" stroke="#00ffcc" stroke-width="1.7" stroke-linejoin="round"/>
<polygon points="-2.5,57.7 18.8,56.4 37.5,55.2 62.5,54.9 87.5,53.9 115,52.7 115,59.9 100,60.2 75,60.8 50,61.4 25,62.1 -2.5,62.1" fill="#ffaaaa" stroke="#ccff00" stroke-width="1.0" stroke-linejoin="round"/>
<polygon points="-2.5,57.7 18.8,56.4 37.5,55.2 62.5,54.9 87.5,53.9 115,52.7 115,59.9 100,60.2 75,60.8 50,61.4 25,62.1 -2.5,62.1" fill="#ffaaaa" stroke="#ff7700" stroke-width="0.5" stroke-linejoin="round"/>
<polygon points="-2.5,62.7 25,62.7 50,62.1 75,61.4 100,60.8 115,60.6 115,87.8 -2.5,87.8" fill="#00ffff"/>
<polygon points="-2.5,69 12.5,69.2 50,70.2 87.5,70.8 115,70.8 115,73 87.5,73.5 50,74 -2.5,74.2" fill="#0055ff"/>
<polygon points="-2.5,76.1 37.5,76.1 56.2,76.7 115,76.7 115,87.8 -2.5,87.8" fill="#00ff88"/>
<polygon points="58.8,78 75,75.9 93.8,75 115,74 115,77.1 93.8,77.5 75,78.7" fill="#ffaa00"/>
<polygon points="75,76.7 93.8,75.6 115,75 115,76.2 93.8,76.7" fill="#ffaaaa"/>
</g>
<clipPath id="c7"><rect x="0" y="0" width="113" height="82"/></clipPath>
<g transform="translate(249,238)" clip-path="url(#c7)">
<rect x="-1" y="-1" width="115" height="84" fill="#8800aa"/>
<polygon points="-2.5,8.1 18.8,6.3 37.5,4.8 52.5,4.4 65,6 75,8.8 87.5,10.3 115,11 115,20.8 93.8,20.1 75,18.8 56.2,16.9 37.5,16.3 18.8,16 -2.5,15.7" fill="#ffaaaa" stroke="#0055ff" stroke-width="2.4" stroke-linejoin="round"/>
<polygon points="-2.5,8.1 18.8,6.3 37.5,4.8 52.5,4.4 65,6 75,8.8 87.5,10.3 115,11 115,20.8 93.8,20.1 75,18.8 56.2,16.9 37.5,16.3 18.8,16 -2.5,15.7" fill="#ffaaaa" stroke="#00ffcc" stroke-width="1.7" stroke-linejoin="round"/>
<polygon points="-2.5,8.1 18.8,6.3 37.5,4.8 52.5,4.4 65,6 75,8.8 87.5,10.3 115,11 115,20.8 93.8,20.1 75,18.8 56.2,16.9 37.5,16.3 18.8,16 -2.5,15.7" fill="#ffaaaa" stroke="#ccff00" stroke-width="1.0" stroke-linejoin="round"/>
<polygon points="-2.5,8.1 18.8,6.3 37.5,4.8 52.5,4.4 65,6 75,8.8 87.5,10.3 115,11 115,20.8 93.8,20.1 75,18.8 56.2,16.9 37.5,16.3 18.8,16 -2.5,15.7" fill="#ffaaaa" stroke="#ff7700" stroke-width="0.5" stroke-linejoin="round"/>
<polygon points="-2.5,20.7 18.8,21.3 37.5,21.6 52.5,22.3 68.8,22.6 87.5,23.8 115,26.6 115,36.6 100,34.1 85,31.1 75,29.5 50,27.8 25,26.6 -2.5,25.7" fill="#ffaaaa" stroke="#0055ff" stroke-width="2.4" stroke-linejoin="round"/>
<polygon points="-2.5,20.7 18.8,21.3 37.5,21.6 52.5,22.3 68.8,22.6 87.5,23.8 115,26.6 115,36.6 100,34.1 85,31.1 75,29.5 50,27.8 25,26.6 -2.5,25.7" fill="#ffaaaa" stroke="#00ffcc" stroke-width="1.7" stroke-linejoin="round"/>
<polygon points="-2.5,20.7 18.8,21.3 37.5,21.6 52.5,22.3 68.8,22.6 87.5,23.8 115,26.6 115,36.6 100,34.1 85,31.1 75,29.5 50,27.8 25,26.6 -2.5,25.7" fill="#ffaaaa" stroke="#ccff00" stroke-width="1.0" stroke-linejoin="round"/>
<polygon points="-2.5,20.7 18.8,21.3 37.5,21.6 52.5,22.3 68.8,22.6 87.5,23.8 115,26.6 115,36.6 100,34.1 85,31.1 75,29.5 50,27.8 25,26.6 -2.5,25.7" fill="#ffaaaa" stroke="#ff7700" stroke-width="0.5" stroke-linejoin="round"/>
<polygon points="-2.5,16.6 18.8,16.8 27.5,18.3 18.8,20.3 -2.5,20.1" fill="#88ff00"/>
<polygon points="75,19.8 93.8,21.1 115,21.9 115,25.7 87.5,23.3 68.8,21.8" fill="#88ff00"/>
<polygon points="-2.5,34.1 25,34.9 50,36.4 68.8,37.6 80,39.1 70,41.6 50,42 25,42 -2.5,41.4" fill="#ffaaaa" stroke="#0055ff" stroke-width="2.4" stroke-linejoin="round"/>
<polygon points="-2.5,34.1 25,34.9 50,36.4 68.8,37.6 80,39.1 70,41.6 50,42 25,42 -2.5,41.4" fill="#ffaaaa" stroke="#00ffcc" stroke-width="1.7" stroke-linejoin="round"/>
<polygon points="-2.5,34.1 25,34.9 50,36.4 68.8,37.6 80,39.1 70,41.6 50,42 25,42 -2.5,41.4" fill="#ffaaaa" stroke="#ccff00" stroke-width="1.0" stroke-linejoin="round"/>
<polygon points="-2.5,34.1 25,34.9 50,36.4 68.8,37.6 80,39.1 70,41.6 50,42 25,42 -2.5,41.4" fill="#ffaaaa" stroke="#ff7700" stroke-width="0.5" stroke-linejoin="round"/>
<polygon points="81.2,32.9 90,35.7 93.1,39.9 87.5,41.1 80,42 82.5,39.1 80,35.1" fill="#88ff00"/>
<polygon points="67.5,37.6 80,38.2 87.5,39.9 80,41.4 68.8,41.6" fill="#ffaa00"/>
<polygon points="75,38.6 85,39.1 88.8,40.1 81.2,40.9" fill="#ffff00"/>
<polygon points="-2.5,39.9 3.8,40.4 2.5,43.9 -2.5,44.5" fill="#ff5500"/>
<polygon points="-2.5,52 25,51.2 50,50.8 75,50.8 93.8,49.5 115,48.3 115,54.2 93.8,55.2 75,56.2 50,57.9 25,58.9 -2.5,59.2" fill="#ffaaaa" stroke="#0055ff" stroke-width="2.4" stroke-linejoin="round"/>
<polygon points="-2.5,52 25,51.2 50,50.8 75,50.8 93.8,49.5 115,48.3 115,54.2 93.8,55.2 75,56.2 50,57.9 25,58.9 -2.5,59.2" fill="#ffaaaa" stroke="#00ffcc" stroke-width="1.7" stroke-linejoin="round"/>
<polygon points="-2.5,52 25,51.2 50,50.8 75,50.8 93.8,49.5 115,48.3 115,54.2 93.8,55.2 75,56.2 50,57.9 25,58.9 -2.5,59.2" fill="#ffaaaa" stroke="#ccff00" stroke-width="1.0" stroke-linejoin="round"/>
<polygon points="-2.5,52 25,51.2 50,50.8 75,50.8 93.8,49.5 115,48.3 115,54.2 93.8,55.2 75,56.2 50,57.9 25,58.9 -2.5,59.2" fill="#ffaaaa" stroke="#ff7700" stroke-width="0.5" stroke-linejoin="round"/>
<polygon points="-2.5,59.9 25,59.7 50,58.7 75,56.9 93.8,55.9 115,54.9 115,87.8 -2.5,87.8" fill="#00ffff"/>
<polygon points="62.5,60.2 77.5,58.7 115,57.9 115,61.2 87.5,61.4 70,61.2" fill="#0055ff"/>
<polygon points="65,58.9 81.2,57.4 100,56.7 115,56.4 115,59.6 93.8,59.9 75,60.4" fill="#0000aa"/>
<polygon points="-2.5,70.2 41.2,70.2 52.5,69.2 41.2,72.7 -2.5,73" fill="#0055ff"/>
<polygon points="-2.5,74 22.5,75 37.5,73.1 56.2,71.2 75,70.2 115,70.5 115,75.2 75,75.5 50,75.7 37.5,76.7 -2.5,76.7" fill="#ffaa00"/>
<polygon points="31.2,75.2 41.2,73.7 56.2,72 75,71 115,71.2 115,74.5 75,74.7 50,75" fill="#ffaaaa"/>
<polygon points="-2.5,74.6 25,75.2 22.5,76.2 -2.5,76.2" fill="#ff2222"/>
<polygon points="-2.5,76.7 37.5,77 50,76 75,75.7 115,75.5 115,87.8 -2.5,87.8" fill="#00ff88"/>
</g>
<clipPath id="c8"><rect x="0" y="0" width="113" height="82"/></clipPath>
<g transform="translate(362,238)" clip-path="url(#c8)">
<rect x="-1" y="-1" width="115" height="84" fill="#8800aa"/>
<polygon points="20,-2.5 115,-2.5 115,1 62.5,2.3 37.5,2.3 25,1" fill="#00ffff"/>
<polygon points="20,-0.6 37.5,0.3 37.5,2.3 25,1.3" fill="#0055ff"/>
<polygon points="-2.5,11.3 25,12.3 56.2,12.9 87.5,13.2 115,13.8 115,23.1 87.5,22.6 56.2,21.9 25,21.3 -2.5,20.7" fill="#ffaaaa" stroke="#0055ff" stroke-width="2.4" stroke-linejoin="round"/>
<polygon points="-2.5,11.3 25,12.3 56.2,12.9 87.5,13.2 115,13.8 115,23.1 87.5,22.6 56.2,21.9 25,21.3 -2.5,20.7" fill="#ffaaaa" stroke="#00ffcc" stroke-width="1.7" stroke-linejoin="round"/>
<polygon points="-2.5,11.3 25,12.3 56.2,12.9 87.5,13.2 115,13.8 115,23.1 87.5,22.6 56.2,21.9 25,21.3 -2.5,20.7" fill="#ffaaaa" stroke="#ccff00" stroke-width="1.0" stroke-linejoin="round"/>
<polygon points="-2.5,11.3 25,12.3 56.2,12.9 87.5,13.2 115,13.8 115,23.1 87.5,22.6 56.2,21.9 25,21.3 -2.5,20.7" fill="#ffaaaa" stroke="#ff7700" stroke-width="0.5" stroke-linejoin="round"/>
<polygon points="-2.5,22.1 18.8,22.8 12.5,25.1 -2.5,25.8" fill="#88ff00"/>
<polygon points="60,32 75,32.9 93.8,33.6 115,33.6 115,43.3 100,43.9 87.5,45.8 70,48.3 67.5,43.9 76.2,41.1 70,37.6 55,36.6" fill="#88ff00"/>
<polygon points="65,34.1 81.2,35.4 100,36.1 115,36.4 115,42.6 87.5,43.3 82.5,41.4 75,38.2 62.5,36.4" fill="#ffff00"/>
<polygon points="75,37.4 93.8,37.9 115,38.2 115,42.9 100,43.6 87.5,42" fill="#ff5500"/>
<polygon points="75,40.1 82.5,40.4 85,42 80,43.3 73.8,42" fill="#00ffff"/>
<polygon points="-2.5,26.6 18.8,27 37.5,28.8 52.5,31.1 62.5,33.2 55,36.4 37.5,36.1 -2.5,36.1" fill="#ffaaaa" stroke="#0055ff" stroke-width="2.4" stroke-linejoin="round"/>
<polygon points="-2.5,26.6 18.8,27 37.5,28.8 52.5,31.1 62.5,33.2 55,36.4 37.5,36.1 -2.5,36.1" fill="#ffaaaa" stroke="#00ffcc" stroke-width="1.7" stroke-linejoin="round"/>
<polygon points="-2.5,26.6 18.8,27 37.5,28.8 52.5,31.1 62.5,33.2 55,36.4 37.5,36.1 -2.5,36.1" fill="#ffaaaa" stroke="#ccff00" stroke-width="1.0" stroke-linejoin="round"/>
<polygon points="-2.5,26.6 18.8,27 37.5,28.8 52.5,31.1 62.5,33.2 55,36.4 37.5,36.1 -2.5,36.1" fill="#ffaaaa" stroke="#ff7700" stroke-width="0.5" stroke-linejoin="round"/>
<polygon points="53.8,32.9 65,33.6 62.5,36.4 55,36.6" fill="#ff5500"/>
<polygon points="-2.5,48.3 25,48.3 47.5,47.4 62.5,46.1 68.1,47.6 65,51.4 43.8,53.9 25,54.5 -2.5,54.5" fill="#ffaaaa" stroke="#0055ff" stroke-width="2.4" stroke-linejoin="round"/>
<polygon points="-2.5,48.3 25,48.3 47.5,47.4 62.5,46.1 68.1,47.6 65,51.4 43.8,53.9 25,54.5 -2.5,54.5" fill="#ffaaaa" stroke="#00ffcc" stroke-width="1.7" stroke-linejoin="round"/>
<polygon points="-2.5,48.3 25,48.3 47.5,47.4 62.5,46.1 68.1,47.6 65,51.4 43.8,53.9 25,54.5 -2.5,54.5" fill="#ffaaaa" stroke="#ccff00" stroke-width="1.0" stroke-linejoin="round"/>
<polygon points="-2.5,48.3 25,48.3 47.5,47.4 62.5,46.1 68.1,47.6 65,51.4 43.8,53.9 25,54.5 -2.5,54.5" fill="#ffaaaa" stroke="#ff7700" stroke-width="0.5" stroke-linejoin="round"/>
<polygon points="64.4,46.1 68.8,47 68.5,51.2 65,51.4" fill="#ff2222"/>
<polygon points="70,48.6 87.5,45.8 100,43.9 115,42.9 115,50.2 87.5,50.2 70,49.7" fill="#ffaaaa" stroke="#0055ff" stroke-width="2.4" stroke-linejoin="round"/>
<polygon points="70,48.6 87.5,45.8 100,43.9 115,42.9 115,50.2 87.5,50.2 70,49.7" fill="#ffaaaa" stroke="#00ffcc" stroke-width="1.7" stroke-linejoin="round"/>
<polygon points="70,48.6 87.5,45.8 100,43.9 115,42.9 115,50.2 87.5,50.2 70,49.7" fill="#ffaaaa" stroke="#ccff00" stroke-width="1.0" stroke-linejoin="round"/>
<polygon points="70,48.6 87.5,45.8 100,43.9 115,42.9 115,50.2 87.5,50.2 70,49.7" fill="#ffaaaa" stroke="#ff7700" stroke-width="0.5" stroke-linejoin="round"/>
<polygon points="-2.5,59.2 37.5,59.2 62.5,59.4 87.5,59.8 115,59.4 115,62.7 87.5,62.4 75,61.4 50,60.8 -2.5,60.4" fill="#0055ff"/>
<polygon points="-2.5,60.4 43.8,60.8 75,61.7 115,62.7 115,87.8 -2.5,87.8" fill="#00ffff"/>
<polygon points="42.5,60.7 75,61.4 80,63.9 70,67.7 60,70.2 37.5,70.2 31.2,69 41.2,65.2" fill="#88ff00"/>
<polygon points="43.8,61.4 58.8,61.1 62.5,62.7 56.2,65.8 45,66.5 42.5,63.9" fill="#ffff00"/>
<polygon points="46.2,62.3 55,62.1 55.6,64.6 47.5,65.2" fill="#ff2222"/>
<polygon points="48.1,62.9 53.8,62.7 54,64.2 48.8,64.4" fill="#ffaaaa"/>
<polygon points="-2.5,70.2 6.2,70.2 6.2,72.7 -2.5,72.7" fill="#ffaaaa"/>
<polygon points="5,70 37.5,69.6 31.2,73 6.2,73.3" fill="#ff5500"/>
<polygon points="25,70.5 62.5,70 65,72.1 60,74.2 27.5,74" fill="#ffff00"/>
<polygon points="62.5,67.7 87.5,66.5 115,67.1 115,72.1 87.5,71.7 65,71.5" fill="#ffaa00"/>
<polygon points="66.2,68.3 87.5,67.3 115,67.7 115,71.2 87.5,71 67.5,70.5" fill="#ffaaaa"/>
<polygon points="-2.5,74 62.5,74.2 115,75 115,87.8 -2.5,87.8" fill="#00ff88"/>
</g>
<clipPath id="c9"><rect x="0" y="0" width="113" height="82"/></clipPath>
<g transform="translate(475,238)" clip-path="url(#c9)">
<rect x="-1" y="-1" width="115" height="84" fill="#8800aa"/>
<polygon points="-2.5,-2.5 115,-2.5 115,12 75,12.5 43.8,12.2 25,11.8 12.5,12.5 -2.5,13.2" fill="#ffaaaa" stroke="#0055ff" stroke-width="2.4" stroke-linejoin="round"/>
<polygon points="-2.5,-2.5 115,-2.5 115,12 75,12.5 43.8,12.2 25,11.8 12.5,12.5 -2.5,13.2" fill="#ffaaaa" stroke="#00ffcc" stroke-width="1.7" stroke-linejoin="round"/>
<polygon points="-2.5,-2.5 115,-2.5 115,12 75,12.5 43.8,12.2 25,11.8 12.5,12.5 -2.5,13.2" fill="#ffaaaa" stroke="#ccff00" stroke-width="1.0" stroke-linejoin="round"/>
<polygon points="-2.5,-2.5 115,-2.5 115,12 75,12.5 43.8,12.2 25,11.8 12.5,12.5 -2.5,13.2" fill="#ffaaaa" stroke="#ff7700" stroke-width="0.5" stroke-linejoin="round"/>
<polygon points="-2.5,0.5 26.9,0.5 19.4,6.3 26.9,11.9 -2.5,13" fill="#ff5500"/>
<polygon points="-2.5,1.1 21.9,1.4 16,6.5 21.9,11.4 -2.5,12.7" fill="#ffff00"/>
<polygon points="-2.5,1.6 18.1,1.9 13.5,6.5 18.1,11 -2.5,12.5" fill="#88ff00"/>
<polygon points="-2.5,2.1 14.4,2.4 11.5,6.8 14.4,10.8 -2.5,12.4" fill="#00ffff"/>
<polygon points="-2.5,2.5 10.6,2.9 9.8,6.9 10.6,10.5 -2.5,12.3" fill="#0055ff"/>
<polygon points="-2.5,3 6.5,3.8 8.2,7.1 5.8,10.5 -2.5,12" fill="#8800aa"/>
<polygon points="-2.5,13.8 18.8,15.7 37.5,18.8 56.2,21.3 75,22.6 115,23.2 115,29.8 87.5,28.6 62.5,27 43.8,25.1 25,23.2 -2.5,22.8" fill="#ffaaaa" stroke="#0055ff" stroke-width="2.4" stroke-linejoin="round"/>
<polygon points="-2.5,13.8 18.8,15.7 37.5,18.8 56.2,21.3 75,22.6 115,23.2 115,29.8 87.5,28.6 62.5,27 43.8,25.1 25,23.2 -2.5,22.8" fill="#ffaaaa" stroke="#00ffcc" stroke-width="1.7" stroke-linejoin="round"/>
<polygon points="-2.5,13.8 18.8,15.7 37.5,18.8 56.2,21.3 75,22.6 115,23.2 115,29.8 87.5,28.6 62.5,27 43.8,25.1 25,23.2 -2.5,22.8" fill="#ffaaaa" stroke="#ccff00" stroke-width="1.0" stroke-linejoin="round"/>
<polygon points="-2.5,13.8 18.8,15.7 37.5,18.8 56.2,21.3 75,22.6 115,23.2 115,29.8 87.5,28.6 62.5,27 43.8,25.1 25,23.2 -2.5,22.8" fill="#ffaaaa" stroke="#ff7700" stroke-width="0.5" stroke-linejoin="round"/>
<polygon points="-2.5,42.4 25,42 50,41.4 87.5,40.7 115,40.1 115,47.4 75,48.3 56.2,49.5 25,49.9 -2.5,49.5" fill="#ffaaaa" stroke="#0055ff" stroke-width="2.4" stroke-linejoin="round"/>
<polygon points="-2.5,42.4 25,42 50,41.4 87.5,40.7 115,40.1 115,47.4 75,48.3 56.2,49.5 25,49.9 -2.5,49.5" fill="#ffaaaa" stroke="#00ffcc" stroke-width="1.7" stroke-linejoin="round"/>
<polygon points="-2.5,42.4 25,42 50,41.4 87.5,40.7 115,40.1 115,47.4 75,48.3 56.2,49.5 25,49.9 -2.5,49.5" fill="#ffaaaa" stroke="#ccff00" stroke-width="1.0" stroke-linejoin="round"/>
<polygon points="-2.5,42.4 25,42 50,41.4 87.5,40.7 115,40.1 115,47.4 75,48.3 56.2,49.5 25,49.9 -2.5,49.5" fill="#ffaaaa" stroke="#ff7700" stroke-width="0.5" stroke-linejoin="round"/>
<polygon points="-2.5,32.9 25,34.9 50,38.2 87.5,38.2 115,37.9 115,40.4 50,41.4 -2.5,42.6" fill="#00ffff"/>
<polygon points="-2.5,35.1 18.8,36.4 37.5,38.6 115,38.6 115,40.4 -2.5,42.4" fill="#88ff00"/>
<polygon points="-2.5,37 25,38.2 50,39.5 115,39.1 115,40.4 -2.5,42.1" fill="#ffff00"/>
<polygon points="-2.5,39.5 31.2,39.9 50,40.4 -2.5,42.1" fill="#ff5500"/>
<polygon points="33.8,36.4 50,36.6 47.5,38.4 36.2,38.1" fill="#0055ff"/>
<polygon points="-2.5,59.9 52.5,60.4 65,58.7 75,55.8 87.5,52.7 100,51.4 115,48.3 115,87.8 -2.5,87.8" fill="#00ffff"/>
<polygon points="56.2,52.7 81.2,50.8 97.5,51.4 102.5,53.3 97.5,55.2 87.5,55.8 75,57.7 67.5,59.6 56.2,59.2 60,56.4" fill="#0000aa"/>
<polygon points="-2.5,59.2 52.5,59.7 67.5,59.7 75,57.9 87.5,56 100,54.2 105,55.2 93.8,57.9 81.2,59.2 75,60.4 52.5,61.2 -2.5,61.2" fill="#0055ff"/>
<polygon points="-2.5,62.1 31.2,61.4 62.5,63.3 87.5,65.2 115,65.8 115,70.2 87.5,70.2 62.5,70.8 25,72.7 -2.5,74" fill="#00ff88"/>
<polygon points="18.8,63.3 50,63.9 75,65.2 100,67.1 115,67.1 115,69.6 75,69.6 50,69 25,70.2" fill="#88ff00"/>
<polygon points="43.8,65.2 75,66.5 100,68 115,67.7 115,69.2 75,69 47.5,67.1" fill="#ffff00"/>
<polygon points="77.5,68.3 100,67.7 115,68 115,69.2 87.5,69.3" fill="#ffaa00"/>
<polygon points="-2.5,65.2 15,65.8 21.2,68.3 18.8,74 -2.5,74.2" fill="#ff5500"/>
<polygon points="-2.5,66.1 12.5,66.7 18.1,68.5 12.5,70.2 -2.5,70.5" fill="#ffaaaa"/>
<polygon points="62.5,73 87.5,71.5 115,70.8 115,72.7 87.5,73.5" fill="#0055ff"/>
<polygon points="-2.5,74.2 62.5,74 115,74 115,87.8 -2.5,87.8" fill="#00ff88"/>
<polygon points="-2.5,80.5 62.5,80.2 65,82.8 -2.5,82.8" fill="#88ff00"/>
<polygon points="72.5,80.5 80,80.5 81.2,82.8 71.2,82.8" fill="#ff5500"/>
</g>
<clipPath id="c10"><rect x="0" y="0" width="113" height="82"/></clipPath>
<g transform="translate(588,238)" clip-path="url(#c10)">
<rect x="-1" y="-1" width="115" height="84" fill="#8800aa"/>
<polygon points="-2.5,-2.5 115,-2.5 115,16.3 93.8,15.3 75,14.8 50,13.5 25,12.5 -2.5,11.9" fill="#ffaaaa" stroke="#0055ff" stroke-width="2.4" stroke-linejoin="round"/>
<polygon points="-2.5,-2.5 115,-2.5 115,16.3 93.8,15.3 75,14.8 50,13.5 25,12.5 -2.5,11.9" fill="#ffaaaa" stroke="#00ffcc" stroke-width="1.7" stroke-linejoin="round"/>
<polygon points="-2.5,-2.5 115,-2.5 115,16.3 93.8,15.3 75,14.8 50,13.5 25,12.5 -2.5,11.9" fill="#ffaaaa" stroke="#ccff00" stroke-width="1.0" stroke-linejoin="round"/>
<polygon points="-2.5,-2.5 115,-2.5 115,16.3 93.8,15.3 75,14.8 50,13.5 25,12.5 -2.5,11.9" fill="#ffaaaa" stroke="#ff7700" stroke-width="0.5" stroke-linejoin="round"/>
<polygon points="70,5.8 87.5,5.3 115,5.5 115,11.5 93.8,9.4 81.2,7" fill="#8800aa" stroke="#ff5500" stroke-width="2.4" stroke-linejoin="round"/>
<polygon points="70,5.8 87.5,5.3 115,5.5 115,11.5 93.8,9.4 81.2,7" fill="#8800aa" stroke="#eeff00" stroke-width="1.7" stroke-linejoin="round"/>
<polygon points="70,5.8 87.5,5.3 115,5.5 115,11.5 93.8,9.4 81.2,7" fill="#8800aa" stroke="#00ffcc" stroke-width="1.0" stroke-linejoin="round"/>
<polygon points="70,5.8 87.5,5.3 115,5.5 115,11.5 93.8,9.4 81.2,7" fill="#8800aa" stroke="#0044ff" stroke-width="0.5" stroke-linejoin="round"/>
<polygon points="-2.5,22.3 25,23.2 50,23.8 75,24.2 115,24.1 115,32.9 93.8,33.2 68.8,33.6 50,32.3 25,30.7 -2.5,29.8" fill="#ffaaaa" stroke="#0055ff" stroke-width="2.4" stroke-linejoin="round"/>
<polygon points="-2.5,22.3 25,23.2 50,23.8 75,24.2 115,24.1 115,32.9 93.8,33.2 68.8,33.6 50,32.3 25,30.7 -2.5,29.8" fill="#ffaaaa" stroke="#00ffcc" stroke-width="1.7" stroke-linejoin="round"/>
<polygon points="-2.5,22.3 25,23.2 50,23.8 75,24.2 115,24.1 115,32.9 93.8,33.2 68.8,33.6 50,32.3 25,30.7 -2.5,29.8" fill="#ffaaaa" stroke="#ccff00" stroke-width="1.0" stroke-linejoin="round"/>
<polygon points="-2.5,22.3 25,23.2 50,23.8 75,24.2 115,24.1 115,32.9 93.8,33.2 68.8,33.6 50,32.3 25,30.7 -2.5,29.8" fill="#ffaaaa" stroke="#ff7700" stroke-width="0.5" stroke-linejoin="round"/>
<polygon points="-2.5,59.2 115,55.8 115,87.8 -2.5,87.8" fill="#00ff88"/>
<polygon points="-2.5,37.6 25,38.2 43.8,38.9 60,40.1 75,47 93.8,50.2 115,52 115,55.8 87.5,56.7 62.5,57.4 18.8,58.7 -2.5,59.2" fill="#00ffff"/>
<polygon points="60,36.4 75,35.7 90,36.4 87.5,41.4 80,43.9 75,47 65,42.6 57.5,39.9" fill="#0000aa"/>
<polygon points="85,36.4 91.2,36.1 90,41.4 86.2,42" fill="#0055ff"/>
<polygon points="90,35.7 115,33.6 115,43.3 100,42 92.5,41.4" fill="#00ffff"/>
<polygon points="97.5,37.6 115,35.7 115,42.6 102.5,41.4" fill="#00ff88"/>
<polygon points="102.5,38.6 115,37.4 115,42.4 106.2,41.4" fill="#ffff00"/>
<polygon points="106.2,39.1 115,38.2 115,42 108.8,41.1" fill="#ff5500"/>
<polygon points="-2.5,38.2 43.8,39.4 58.8,41.1 72.5,47 90,50.4 107.5,52.7 87.5,54.9 62.5,56.2 31.2,56.4 18.8,53.9 25,48.9 -2.5,48.6" fill="#00ff88"/>
<polygon points="18.8,39.1 43.8,39.9 57.5,42 70,47.6 87.5,51.2 75,53.9 50,55.2 31.2,54.9 25,52 32.5,48.3 30,46.6 41.2,43.3 30,41.4" fill="#88ff00"/>
<polygon points="30,42.6 50,42 60,45.1 70,48.9 80,51.7 62.5,53.3 37.5,53.9 28.8,52.7 35,49.5 41.2,46.4" fill="#ffff00"/>
<polygon points="31.2,51.2 50,50.4 70,50.8 81.2,52.4 62.5,54.9 37.5,55.2 30,53.7" fill="#ff5500"/>
<polygon points="23.8,41.4 41.2,43.3 37.5,46.4 23.8,46.6 29.4,43.9" fill="#ff2222"/>
<polygon points="-2.5,40.4 25,42.1 29.4,43.9 25,46 -2.5,47.5" fill="#ffaaaa"/>
<polygon points="-2.5,60.2 18.8,58.7 62.5,57.3 87.5,56.7 106.2,55.4 115,54.9 115,56.7 87.5,57.9 62.5,58.7 18.8,60.2 -2.5,61.7" fill="#0055ff"/>
<polygon points="37.5,57.9 62.5,57.4 81.2,57 81.2,57.9 62.5,58.4 37.5,58.9" fill="#0000aa"/>
<polygon points="-2.5,60.9 18.8,60.2 31.2,62.7 18.8,65.2 -2.5,66.5" fill="#00ffff"/>
<polygon points="-2.5,65.2 18.8,63.3 37.5,62.1 56.2,60.8 87.5,59.9 115,59.6 115,67.1 87.5,67.1 56.2,68.3 25,69.6 -2.5,70.2" fill="#ffff00"/>
<polygon points="-2.5,68.3 18.8,66.2 37.5,64.2 56.2,62.4 87.5,61.2 115,60.9 115,65.8 87.5,66.2 56.2,67.5 25,68.7 -2.5,69.7" fill="#ffaa00"/>
<polygon points="43.8,63.3 56.2,62.7 87.5,61.7 115,61.4 115,65.2 87.5,65.7 56.2,66.5 43.8,65.2" fill="#ffaaaa"/>
<polygon points="-2.5,70.2 25,69.2 56.2,68 87.5,67.2 115,67.5 115,87.8 -2.5,87.8" fill="#00ffff"/>
<polygon points="-2.5,70.5 115,70.2 115,74 -2.5,74" fill="#0055ff"/>
<polygon points="-2.5,75.2 115,75.2 115,87.8 -2.5,87.8" fill="#00ff88"/>
</g>
<clipPath id="c11"><rect x="0" y="0" width="113" height="82"/></clipPath>
<g transform="translate(701,238)" clip-path="url(#c11)">
<rect x="-1" y="-1" width="115" height="84" fill="#8800aa"/>
<polygon points="-2.5,-2.5 70,-2.5 70,2.5 58.8,4.4 50,6 25,6 -2.5,5.3" fill="#ffaaaa" stroke="#0055ff" stroke-width="2.4" stroke-linejoin="round"/>
<polygon points="-2.5,-2.5 70,-2.5 70,2.5 58.8,4.4 50,6 25,6 -2.5,5.3" fill="#ffaaaa" stroke="#00ffcc" stroke-width="1.7" stroke-linejoin="round"/>
<polygon points="-2.5,-2.5 70,-2.5 70,2.5 58.8,4.4 50,6 25,6 -2.5,5.3" fill="#ffaaaa" stroke="#ccff00" stroke-width="1.0" stroke-linejoin="round"/>
<polygon points="-2.5,-2.5 70,-2.5 70,2.5 58.8,4.4 50,6 25,6 -2.5,5.3" fill="#ffaaaa" stroke="#ff7700" stroke-width="0.5" stroke-linejoin="round"/>
<polygon points="-2.5,12.5 25,14.2 50,15 70,15.4 70,21.1 50,19.8 25,18.2 -2.5,16.7" fill="#ffaaaa" stroke="#0055ff" stroke-width="2.4" stroke-linejoin="round"/>
<polygon points="-2.5,12.5 25,14.2 50,15 70,15.4 70,21.1 50,19.8 25,18.2 -2.5,16.7" fill="#ffaaaa" stroke="#00ffcc" stroke-width="1.7" stroke-linejoin="round"/>
<polygon points="-2.5,12.5 25,14.2 50,15 70,15.4 70,21.1 50,19.8 25,18.2 -2.5,16.7" fill="#ffaaaa" stroke="#ccff00" stroke-width="1.0" stroke-linejoin="round"/>
<polygon points="-2.5,12.5 25,14.2 50,15 70,15.4 70,21.1 50,19.8 25,18.2 -2.5,16.7" fill="#ffaaaa" stroke="#ff7700" stroke-width="0.5" stroke-linejoin="round"/>
<polygon points="-2.5,24.6 25,25.7 50,26.6 70,27.3 70,36.6 50,35.7 25,33.6 -2.5,32" fill="#ffaaaa" stroke="#0055ff" stroke-width="2.4" stroke-linejoin="round"/>
<polygon points="-2.5,24.6 25,25.7 50,26.6 70,27.3 70,36.6 50,35.7 25,33.6 -2.5,32" fill="#ffaaaa" stroke="#00ffcc" stroke-width="1.7" stroke-linejoin="round"/>
<polygon points="-2.5,24.6 25,25.7 50,26.6 70,27.3 70,36.6 50,35.7 25,33.6 -2.5,32" fill="#ffaaaa" stroke="#ccff00" stroke-width="1.0" stroke-linejoin="round"/>
<polygon points="-2.5,24.6 25,25.7 50,26.6 70,27.3 70,36.6 50,35.7 25,33.6 -2.5,32" fill="#ffaaaa" stroke="#ff7700" stroke-width="0.5" stroke-linejoin="round"/>
<polygon points="-2.5,32.3 25,33.9 41.2,36.4 37.5,42.6 25,43.3 -2.5,43.9" fill="#88ff00"/>
<polygon points="-2.5,32.9 18.8,33.9 31.2,36.4 25,38.2 -2.5,37.6" fill="#ffff00"/>
<polygon points="-2.5,37.6 7.5,37.9 31.2,38.6 32.5,42 7.5,42.4 -2.5,42.6" fill="#ff5500"/>
<polygon points="7.5,39.1 30,39.1 28.8,41.8 8.8,41.9" fill="#ffaaaa"/>
<polygon points="31.2,37.6 42.5,38.9 37.5,45.1 32.5,50.2 28.8,47.6 35,42.6" fill="#00ffff"/>
<polygon points="36.2,41.4 43.8,43.9 40,50.2 33.8,49.5" fill="#88ff00"/>
<polygon points="40,47 50,46.1 56.2,49.5 41.2,50.2" fill="#ff5500"/>
<polygon points="50,47 70,44.9 70,50.4 56.2,49.7" fill="#ffaaaa"/>
<polygon points="-2.5,49.5 28.8,49.5 31.2,51.4 25,53.7 -2.5,53.9" fill="#0000aa"/>
<polygon points="-2.5,59.2 37.5,59.2 70,57.2 70,87.8 -2.5,87.8" fill="#00ffff"/>
<polygon points="-2.5,60.4 25,60.7 27.5,62.4 18.8,64.2 -2.5,64.4" fill="#ff5500"/>
<polygon points="-2.5,61.4 18.8,61.4 20,62.7 12.5,63.4 -2.5,63.7" fill="#ffaaaa"/>
<polygon points="25,60.2 50,59.7 52.5,61.7 27.5,62.7" fill="#88ff00"/>
<polygon points="31.2,60.7 47.5,60.2 48.8,61.4 32.5,61.9" fill="#ffff00"/>
<polygon points="53.8,59.9 70,58.9 70,62.9 56.2,62.7" fill="#ffaa00"/>
<polygon points="58.8,60.4 70,59.7 70,62.4 60,62.2" fill="#ffaaaa"/>
<polygon points="-2.5,68.3 70,68.3 70,73.3 -2.5,73.3" fill="#0055ff"/>
<polygon points="-2.5,75.2 12.5,75 37.5,76.5 70,74 70,87.8 -2.5,87.8" fill="#00ff88"/>
<polygon points="12.5,79.2 25,78 41.2,79 37.5,80.9 18.8,81" fill="#ff5500"/>
<polygon points="21.2,79.2 31.2,79 30,80.2 22.5,80.4" fill="#ff2222"/>
</g>
<clipPath id="c12"><rect x="0" y="0" width="113" height="82"/></clipPath>
<g transform="translate(136,320)" clip-path="url(#c12)">
<rect x="-1" y="-1" width="115" height="84" fill="#00ff88"/>
<polygon points="-2.5,4 37.5,3.1 75,2.8 115,3.1 115,7.8 93.8,8.8 75,9.4 65,11.3 50,11.9 31.2,12.5 12.5,13.8 7.5,15.7 -2.5,15" fill="#00ffff"/>
<polygon points="91.2,12.5 115,11.3 115,15 93.8,14.4" fill="#00ffff"/>
<polygon points="18.8,5 56.2,5 56.2,6 18.8,6" fill="#0055ff"/>
<polygon points="12.5,10.8 35,10.5 43.8,9.3 37.5,10.3 35,12.5 12.5,12.5" fill="#0055ff"/>
<polygon points="91.2,5 100,5 100,5.9 91.2,5.9" fill="#0055ff"/>
<polygon points="107.5,5 115,5 115,5.9 107.5,5.9" fill="#0055ff"/>
<polygon points="1.2,1.8 12.5,1.3 31.2,1.3 37.5,2.5 31.2,3.5 12.5,4.5 1.2,4.5" fill="#ff5500"/>
<polygon points="1.2,2.5 12.5,2.5 12.5,4.4 1.2,4.4" fill="#ffaaaa"/>
<polygon points="10,1.5 31.2,1.3 30,3.3 11.2,3.3" fill="#ff2222"/>
<polygon points="-2.5,15 7.5,16.9 12.5,18.2 50,17.6 62.5,16.9 70,15 81.2,16.3 90,16.9 106.2,18.8 106.2,19.8 87.5,18.8 75,17.6 62.5,19.4 37.5,20.1 12.5,20.1 -2.5,18.8" fill="#88ff00"/>
<polygon points="6.2,16 12.5,13.5 31.2,12.3 50,11.7 60,12.3 65,11 75,9.2 93.8,8.5 115,7.3 115,10.9 100,12.2 90,13.4 87.5,16.6 81.2,15.9 70,14.7 62.5,16.6 50,17.2 31.2,17.2 12.5,17.8 7.5,16.8" fill="#ffaa00"/>
<polygon points="12.5,14 31.2,12.8 50,12.3 60.6,12.9 60,16.3 50,16.7 31.2,16.7 13.8,17.1 10,15.8" fill="#ffaaaa"/>
<polygon points="60,12.5 65,11.5 71.2,11.3 70,14.5 62.5,16.3 59.8,16" fill="#ff2222"/>
<polygon points="71.2,11.5 75,9.8 93.8,9.2 115,7.9 115,10.4 100,11.7 90,12.5 75,13.8" fill="#ffaaaa"/>
<polygon points="1.2,30.1 5,27 12.5,25.1 25,24.4 41.2,23.2 56.2,23.8 68.8,24.4 81.2,24.4 90,25.7 100,29.5 106.2,32 115,32.9 115,42 103.8,41.4 93.8,41.4 81.2,39.5 73.8,36.4 67.5,33.2 60,31.3 52.5,32 51.9,34.5 56.2,37 57.5,38.9 40,39.5 25,39.5 12.5,37.6 3.8,36.4" fill="#88ff00"/>
<polygon points="16.2,29.5 20,27.6 23.8,28.2 23.1,31.3 17.5,32.6" fill="#00ff88"/>
<polygon points="-2.5,47 13.8,46.6 22.5,49.5 27.5,47.4 35,48.3 41.2,52 47.5,49.5 55,48.3 60,51.4 58.8,55.2 50,55.8 43.8,60.2 43.1,62.7 50,61.4 58.8,58.9 67.5,56.4 73.8,57.7 70,61.4 67.5,65.2 75,65.8 87.5,65.2 95,60.2 105,57 115,57 115,72.7 -2.5,72.7" fill="#88ff00"/>
<polygon points="8.1,49.5 14.4,48.9 15,52 10.6,56.4 7.8,55.2" fill="#00ff88"/>
<polygon points="23.8,53.9 28.8,52 38.8,52.7 37.5,57.7 30,58.9 24.4,57.7" fill="#00ff88"/>
<polygon points="28.8,64.2 32.5,64.6 33.1,68.3 29.4,67.1" fill="#00ff88"/>
<polygon points="37.5,65.4 42.5,65.8 42.5,70.2 38.1,69" fill="#00ff88"/>
<polygon points="46.2,67.3 50,67.3 50,72.1 46.5,71.5" fill="#00ff88"/>
<polygon points="7.5,63.9 11.9,64.2 11.2,66.5 7.8,66.5" fill="#00ff88"/>
</g>
<clipPath id="c13"><rect x="0" y="0" width="113" height="82"/></clipPath>
<g transform="translate(249,320)" clip-path="url(#c13)">
<rect x="-1" y="-1" width="115" height="84" fill="#00ff88"/>
<polygon points="-2.5,3.1 115,2.8 115,15.7 75,15.3 37.5,15 -2.5,15" fill="#00ffff"/>
<polygon points="-2.5,4.8 10.6,4.8 10.6,5.8 -2.5,5.8" fill="#0055ff"/>
<polygon points="18.8,7.8 43.8,5.6 68.8,5.3 87.5,4.8 86.2,6.3 70,6.8 50,8.5 25,9.8" fill="#ffff00"/>
<polygon points="25,6.9 47.5,6.3 46.2,8.3 27.5,9" fill="#ffaa00"/>
<polygon points="70,4.8 87.5,4.8 86.2,6 71.2,6" fill="#ffaa00"/>
<polygon points="2.5,7.3 27.5,7 26.9,9 3.8,10" fill="#ff2222"/>
<polygon points="-2.5,7.8 22.5,7.8 21.2,9.5 -2.5,10.5" fill="#ffaaaa"/>
<polygon points="105,3.1 115,3.1 115,4 106.2,4" fill="#ffff00"/>
<polygon points="102.5,19.1 115,18.2 115,20.7 106.2,20.7" fill="#88ff00"/>
<polygon points="-2.5,31.3 12.5,28.2 25,25.7 33.8,27 36.9,30.1 32.5,34.5 25,37.6 12.5,40.1 -2.5,42" fill="#88ff00"/>
<polygon points="38.8,40.7 50,35.1 62.5,30.7 75,28.2 87.5,27 106.2,25.7 111.2,28.8 107.5,33.9 100,37 87.5,40.1 75,42.6 65,43.3 65,44.5 80,45.8 93.8,48.3 115,49.5 115,62.7 102.5,62.7 106.2,58.9 100,55.2 87.5,51.4 75,49.5 62.5,48.3 55,49.5 48.8,53.9 38.8,54.5 31.2,58.9 18.8,61.4 6.2,63.9 -2.5,65.2 -2.5,58.3 12.5,53.9 25,49.5 37.5,46.4 48.8,44.5 50,42.6" fill="#88ff00"/>
<polygon points="72.5,26.6 81.2,25.5 87.5,27 81.2,28.3" fill="#ffaa00"/>
<polygon points="41.9,70.2 43.8,65.2 48.8,62.3 55,62.9 58.8,58.4 62.5,58.9 59.4,64.2 67.5,62.7 75,60.2 85,56.7 83.8,60.4 78.1,65.4 87.5,66.5 97.5,63.9 100,67.7 115,68.3 115,72.7 52.5,72.7 43.8,74" fill="#88ff00"/>
<polygon points="26.2,69.2 36.2,69.2 36.2,70.5 26.2,70.5" fill="#88ff00"/>
</g>
<clipPath id="c14"><rect x="0" y="0" width="113" height="82"/></clipPath>
<g transform="translate(362,320)" clip-path="url(#c14)">
<rect x="-1" y="-1" width="115" height="84" fill="#00ff88"/>
<polygon points="-2.5,5.6 18.8,6.9 50,6.3 87.5,4.4 115,3.1 115,16 75,15.3 -2.5,15" fill="#00ffff"/>
<polygon points="-2.5,2.3 37.5,1.9 75,1 115,1.5 115,3.5 87.5,4.8 50,6.5 18.8,7.1 -2.5,6" fill="#88ff00"/>
<polygon points="12.5,3 50,2.3 87.5,1.8 86.2,3.8 50,5.8 20,6" fill="#ffff00"/>
<polygon points="25,3.8 52.5,2.3 85,1.8 83.8,3.8 50,5.3 28.8,5.5" fill="#ffaa00"/>
<polygon points="66.2,2.3 77.5,2 76.9,3.8 66.9,4" fill="#ff2222"/>
<polygon points="-2.5,18.6 37.5,18.2 31.2,19.8 -2.5,20.7" fill="#88ff00"/>
<polygon points="28.1,40.7 37.5,35.7 46.2,33.2 56.2,35.7 50,38.9 41.2,41.4" fill="#88ff00"/>
<polygon points="-2.5,47 25,46.6 43.8,47.6 56.2,48.9 59.4,50.2 55,52.7 41.2,55.2 46.2,59.6 60,60.2 68.8,58.9 67.5,62.1 77.5,61.4 90,58.9 103.8,58.9 107.5,62.7 115,63.3 115,72.7 -2.5,72.7" fill="#88ff00"/>
<polygon points="-2.5,60.8 12.5,58.3 25,59.9 35,62.7 42.5,67.7 47.5,70.5 37.5,70.8 25,70.2 15,69.6 11.2,67.1 6.2,68.3 -2.5,68.3" fill="#00ff88"/>
<polygon points="88.8,66.7 100,66.5 100,68.3 88.8,68.3" fill="#00ff88"/>
<polygon points="107.5,47.4 115,46.1 115,48.6 110,48.4" fill="#88ff00"/>
</g>
<clipPath id="c15"><rect x="0" y="0" width="113" height="82"/></clipPath>
<g transform="translate(475,320)" clip-path="url(#c15)">
<rect x="-1" y="-1" width="115" height="84" fill="#00ff88"/>
<polygon points="-2.5,3.1 115,1.9 115,10.7 100,11.3 87.5,12.5 75,15.7 50,15.7 -2.5,15.7" fill="#00ffff"/>
<polygon points="98.8,5 115,5 115,5.9 98.8,5.9" fill="#0055ff"/>
<polygon points="-2.5,0 77.5,0 75,2.3 37.5,3 -2.5,3" fill="#ffff00"/>
<polygon points="2.5,0 75,0 70,1.5 37.5,2.5 5,2.5" fill="#ff5500"/>
<polygon points="12.5,0.8 28.8,0.8 28.8,2.3 12.5,2.3" fill="#ffaaaa"/>
<polygon points="28.8,0.5 43.8,0.5 43.8,2.3 28.8,2.3" fill="#ff2222"/>
<polygon points="45,-0.6 65,-0.6 65,1.3 45,1.3" fill="#ffaaaa"/>
<polygon points="-2.5,40.1 10,33.9 25,32 37.5,30.1 47.5,25.1 56.2,25.7 68.8,25.1 81.2,20.1 90,16.9 107.5,18.8 90,21.3 90,27 81.2,32.6 72.5,38.2 56.2,40.1 37.5,42.6 18.8,41.4 -2.5,42.6" fill="#88ff00"/>
<polygon points="49.4,23.6 62.5,20.7 75,16.9 87.5,12.5 100,10.5 115,9.5 115,14.3 100,14.5 87.5,17.6 77.5,21.9 67.5,25.7 55,26.1" fill="#ffff00"/>
<polygon points="53.1,23.6 62.5,21.4 75,17.7 87.5,13.3 100,11.2 115,10.3 115,13.5 100,13.8 87.5,16.6 77.5,20.9 67.5,24.8 56.2,25.3" fill="#ffaa00"/>
<polygon points="55.6,23.8 62.5,22.2 75,18.4 87.5,14 100,11.8 115,10.9 115,12.9 100,13.2 87.5,15.9 77.5,20.2 67.5,24.1 57.2,24.7" fill="#ff2222"/>
<polygon points="108.8,11 115,10.8 115,12.5 108.8,12.5" fill="#ffaaaa"/>
<polygon points="-2.5,46.4 12.5,46.6 28.8,48.3 18.8,50.2 17.5,52.7 6.2,50.2 -2.5,49.5" fill="#88ff00"/>
<polygon points="86.2,40.7 95,36.4 115,35.7 115,38.9 100,38.9 90,42" fill="#88ff00"/>
<polygon points="-2.5,63.9 12.5,62.7 20,58.9 31.2,60.2 43.8,56.4 56.2,56.4 58.8,51.4 65,53.9 66.2,57.7 75,55.8 87.5,52.7 100,47.6 115,46.4 115,50.2 102.5,52.7 100,56.4 115,55.2 115,58.9 100,60.2 87.5,62.7 75,62.7 67.5,65.2 60,68.3 52.5,63.9 47.5,70.2 42.5,65.2 33.8,71.5 12.5,71.7 -2.5,70.5" fill="#88ff00"/>
<polygon points="91.2,65.8 95,65.8 95,68.3 91.2,68.3" fill="#88ff00"/>
<polygon points="98.8,68.3 107.5,67.7 107.5,72.1 98.8,72.1" fill="#88ff00"/>
</g>
<clipPath id="c16"><rect x="0" y="0" width="113" height="82"/></clipPath>
<g transform="translate(588,320)" clip-path="url(#c16)">
<rect x="-1" y="-1" width="115" height="84" fill="#00ff88"/>
<polygon points="-2.5,2.3 115,1.9 115,5.6 100,6.3 75,7.8 50,9 25,10 -2.5,10.9" fill="#00ffff"/>
<polygon points="52.5,13.2 75,11.3 100,9.8 115,8.8 115,15.7 87.5,15.7 65,15.3" fill="#00ffff"/>
<polygon points="-2.5,4.8 83.8,4.8 83.8,5.9 -2.5,5.9" fill="#0055ff"/>
<polygon points="15,4.1 33.8,4.1 33.8,5.6 15,5.6" fill="#0000aa"/>
<polygon points="-2.5,10 25,9.2 50,8.1 75,6.9 100,5.4 115,4.8 115,8.3 100,9.5 75,10.5 50,12.5 25,14.2 -2.5,13.8" fill="#ffaa00"/>
<polygon points="-2.5,10.9 25,10 50,9 75,7.8 100,6.3 115,5.5 115,7.6 100,8.9 75,9.9 50,11.7 25,13.3 -2.5,13" fill="#ffaaaa"/>
<polygon points="18.8,18.6 62.5,18.6 61.2,19.8 20,19.8" fill="#88ff00"/>
<polygon points="95,21.6 103.8,20.1 111.2,21.3 103.8,22.8" fill="#ffff00"/>
<polygon points="100,21.1 108.8,21.1 106.2,22.2" fill="#ffaa00"/>
<polygon points="2.5,29.5 12.5,26.3 22.5,26.6 33.8,30.7 18.8,32 12.5,33.9 6.2,32.6" fill="#88ff00"/>
<polygon points="-2.5,36.4 8.8,36.4 12.5,40.7 -2.5,41.4" fill="#88ff00"/>
<polygon points="28.1,40.7 32.5,38.2 40,40.1 52.5,39.9 56.2,35.7 68.8,33.9 80,32.6 87.5,28.8 96.2,29.5 86.2,32.6 86.2,37.6 81.2,41.4 50,42 37.5,41.1" fill="#88ff00"/>
<polygon points="6.2,53.9 10,50.2 20,46.4 28.8,45.4 33.8,47.4 22.5,50.2 15,53.3" fill="#88ff00"/>
<polygon points="38.8,59.6 50,53.9 62.5,51.4 81.2,50.2 93.8,47 115,46.4 115,63.9 87.5,63.3 62.5,62.1 47.5,62.1" fill="#88ff00"/>
<polygon points="-2.5,70.2 6.2,66.5 13.8,68.3 15,63.9 21.2,61.4 23.1,66.5 37.5,68.3 56.2,67.1 66.2,65.2 77.5,67.7 70,70.2 37.5,71.2 12.5,71 -2.5,72.1" fill="#88ff00"/>
</g>
<clipPath id="c17"><rect x="0" y="0" width="113" height="82"/></clipPath>
<g transform="translate(701,320)" clip-path="url(#c17)">
<rect x="-1" y="-1" width="115" height="84" fill="#00ff88"/>
<polygon points="-2.5,1.3 70,1.3 70,15 -2.5,16" fill="#00ffff"/>
<polygon points="10,0 28.8,0 27.5,1.3 11.2,1.3" fill="#ffaa00"/>
<polygon points="-2.5,5 25,4.1 50,2.9 70,2.1 70,6.3 50,6.9 25,7.5 -2.5,8.4" fill="#ffaa00"/>
<polygon points="-2.5,5.8 25,4.9 50,3.6 70,2.9 70,5.5 50,6.1 25,6.8 -2.5,7.6" fill="#ffaaaa"/>
<polygon points="-2.5,22.6 12.5,21.3 30,20.7 30,27 22.5,30.7 12.5,32.3 7.5,28.8 12.5,25.1 -2.5,24.8" fill="#88ff00"/>
<polygon points="6.9,22.3 12.5,21.8 13.1,23.6 7.5,23.8" fill="#ffaa00"/>
<polygon points="20,21.6 27.5,21.1 27.5,23.6 20.6,23.8" fill="#ffaa00"/>
<polygon points="-2.5,42.6 12.5,42 37.5,41.4 47.5,40.1 55,35.1 58.8,29.5 70,28.2 70,72.7 -2.5,72.7" fill="#88ff00"/>
<polygon points="-2.5,62.7 7.5,60.2 18.8,58.9 23.8,59.6 31.2,57.4 50,55.9 53.8,58.4 37.5,62.7 30,67.7 25,70.5 21.2,65.2 13.8,62.7 6.2,65.2 2.5,72.1 -2.5,72.7" fill="#00ff88"/>
<polygon points="12.5,44.1 25,42.6 46.2,43.3 45,45.6 18.8,45.6" fill="#ffff00"/>
<polygon points="20,43.6 43.8,43.4 43.1,44.9 21.2,44.9" fill="#ffaa00"/>
</g>
<clipPath id="c18"><rect x="0" y="0" width="113" height="82"/></clipPath>
<g transform="translate(136,392)" clip-path="url(#c18)">
<rect x="-1" y="-1" width="115" height="84" fill="#88ff00"/>
<polygon points="-2.5,13.2 7.5,10 16.2,5.6 25,3.8 37.5,4.4 47.5,8.8 56.2,10 65,11.9 75,15.7 85,17.6 88.1,21.9 86.2,27 81.2,30.7 75,30.7 74.4,41.4 71.2,50.2 71.2,57.7 75,66.5 82.5,72.7 90,75.9 100,75.9 106.2,73.7 115,71.5 115,87.8 36.2,87.8 36.2,80.2 31.2,77.1 25,74 21.9,70.2 23.1,66.5 28.8,62.7 35,58.3 37.5,52.7 33.8,46.4 27.5,41.4 18.8,37 10,35.7 -2.5,35.7" fill="#00ff88"/>
<polygon points="115,32.6 108.8,37.6 105.6,45.1 105,53.9 107.5,61.4 115,68.3" fill="#00ff88"/>
<polygon points="113.1,21.3 107.5,30.1 101.2,37.6 101.5,39.9 106.2,33.9 113.1,25.1" fill="#00ff88"/>
<polygon points="-2.5,0.6 37.5,1 36.2,3.8 7.5,3" fill="#0055ff"/>
<polygon points="8.8,1 32.5,1.3 31.2,3.1 10,2.8" fill="#0000aa"/>
<polygon points="31.2,2.5 41.2,3.8 55,8.1 52.5,9.8 43.8,7.5 36.2,5" fill="#00ffff"/>
<polygon points="38.8,-0.6 65,0.6 70,5 76.2,9.4 70,8.8 60,5.6 50,4.4" fill="#ff5500"/>
<polygon points="45,1 56.2,1.5 58.8,3.1 50,2.8" fill="#ffaaaa"/>
<polygon points="62.5,3.1 72.5,5.6 76.5,10 72.5,9.4 65,6.3" fill="#ffff00"/>
<polygon points="92.5,1 115,1 115,3.1 92.5,3.1" fill="#ffaa00"/>
<polygon points="106.2,3.1 115,3.1 115,5.6 107.5,5.6" fill="#ffff00"/>
</g>
<clipPath id="c19"><rect x="0" y="0" width="113" height="82"/></clipPath>
<g transform="translate(249,392)" clip-path="url(#c19)">
<rect x="-1" y="-1" width="115" height="84" fill="#00ff88"/>
<polygon points="-2.5,3.1 37.5,2.8 28.8,5 18.8,8.1 10,13.2 3.8,17.6 -2.5,21.3" fill="#88ff00"/>
<polygon points="-2.5,28.2 6.2,26 4.4,29.5 -2.5,34.5" fill="#88ff00"/>
<polygon points="15,46.4 15.6,41.4 20,37 28.8,32 41.2,27.6 55,25.1 67.5,25.7 73.8,30.1 80,29.5 87.5,25.7 95,21.3 103.8,21.3 115,23.6 115,37 106.2,40.1 97.5,45.1 91.2,50.2 87.5,58.9 82.5,66.5 80.6,71.5 82.5,75.2 90,77 115,77 115,87.8 58.8,87.8 58.5,75.2 56.9,67.7 52.5,58.9 46.2,52.7 40,49.5 31.2,48.3 22.5,48.9" fill="#88ff00"/>
<polygon points="-2.5,1 16.2,1 16.2,2.8 -2.5,3" fill="#ffaa00"/>
<polygon points="-2.5,3.1 5,3.1 3.8,5.6 -2.5,6" fill="#ffff00"/>
<polygon points="16.2,1.3 36.2,1.3 35,3.1 17.5,3.1" fill="#ffff00"/>
<polygon points="38.8,2.8 62.5,2.8 112.5,3.5 112.5,5 62.5,5 40,4.8" fill="#00ffff"/>
<polygon points="53.8,1.3 115,1.3 115,2.8 53.8,2.8" fill="#0055ff"/>
<polygon points="47.2,2.3 50,1.8 50.6,3.8 48.1,4.8" fill="#0000aa"/>
</g>
<clipPath id="c20"><rect x="0" y="0" width="113" height="82"/></clipPath>
<g transform="translate(362,392)" clip-path="url(#c20)">
<rect x="-1" y="-1" width="115" height="84" fill="#88ff00"/>
<polygon points="-2.5,7.5 18.8,6.9 31.2,6.3 43.8,7.5 53.8,10 60,13.2 72.5,16.3 72.8,20.7 61.2,21.3 53.8,18.8 43.8,18.8 31.2,15.3 28.1,16.3 36.2,20.1 47.5,26.3 55,33.2 61.2,40.1 64.4,47.6 62.5,53.9 58.8,57 47.5,60.2 35,62.7 22.5,65.2 12.5,71.5 3.8,76.5 -2.5,78 -2.5,37 12.5,33.2 23.8,29.7 12.5,25.1 -2.5,23.2" fill="#00ff88"/>
<polygon points="115,15.7 106.2,17.6 98.8,21.3 93.8,27.6 91.9,33.9 93.8,38.9 97.5,43.3 100.6,43.9 101,37.6 103.1,31.3 107.5,27 115,24.8" fill="#00ff88"/>
<polygon points="41.2,87.8 41.9,76.5 46.2,74 56.2,75 68.8,77 80,76.5 92.5,78.4 95,87.8" fill="#00ff88"/>
<polygon points="101.9,87.8 105,72.7 108.8,68.3 115,65.4 115,87.8" fill="#00ff88"/>
<polygon points="-2.5,3.1 28.8,3.8 27.5,7.5 12.5,5.6 -2.5,5.3" fill="#00ffff"/>
<polygon points="-2.5,1.9 5,1.9 5,2.8 -2.5,2.8" fill="#0055ff"/>
<polygon points="10,0.6 60,0.6 58.8,3.8 37.5,3.8 18.8,3.1" fill="#ff2222"/>
<polygon points="18.8,1.3 37.5,1.3 37.5,3 20,3" fill="#ffaaaa"/>
<polygon points="47.5,2.5 60,2.5 58.8,8.8 52.5,6.3" fill="#ffff00"/>
<polygon points="65,3.1 82.5,3.1 81.2,5.6 66.2,5.6" fill="#ffff00"/>
<polygon points="77.5,1 115,1 115,2.8 77.5,2.8" fill="#ffaa00"/>
</g>
<clipPath id="c21"><rect x="0" y="0" width="113" height="82"/></clipPath>
<g transform="translate(475,392)" clip-path="url(#c21)">
<rect x="-1" y="-1" width="115" height="84" fill="#88ff00"/>
<polygon points="11.9,-2.5 12.5,7.5 7.5,13.8 -2.5,16.6 -2.5,25.1 7.5,21.3 16.2,16.3 23.8,11.3 37.5,8.8 52.5,6.3 75,6.3 100,7.5 115,8.3 115,-2.5" fill="#00ff88"/>
<polygon points="3.1,3.8 7.5,3.8 7.5,7.5 3.1,7.5" fill="#ffff00"/>
<polygon points="23.8,1.3 55,1.3 55,5 25,5" fill="#00ffff"/>
<polygon points="43.8,1 115,1 115,3.1 43.8,3.1" fill="#0000aa"/>
<polygon points="-2.5,66.5 1.5,63.9 2.5,52.7 2.5,43.9 5,38.9 10,33.9 17.5,29.5 28.8,25.1 43.8,22.3 55,22.6 62.5,25.1 65.6,29.5 65,33.9 61.2,37.6 52.5,41.4 43.8,46.4 37.5,51.4 35.6,56.4 36.2,62.7 38.8,70.2 43.1,74.6 41.2,77.1 31.2,79.2 -2.5,78.7" fill="#00ff88"/>
<polygon points="115,28.2 103.8,30.1 97.5,33.9 93.1,40.1 93.1,50.2 91.2,57.7 89.4,65.2 90.6,71.5 95,75.2 103.8,77.1 115,76.5" fill="#00ff88"/>
</g>
<clipPath id="c22"><rect x="0" y="0" width="113" height="82"/></clipPath>
<g transform="translate(588,392)" clip-path="url(#c22)">
<rect x="-1" y="-1" width="115" height="84" fill="#00ff88"/>
<polygon points="25,-2.5 87.5,-2.5 87.5,1.9 75,2.5 56.2,3.1 50,3.8 58.8,7.5 64.4,11.3 60,12.5 52.5,10 43.8,6.9 31.2,5 18.8,5" fill="#88ff00"/>
<polygon points="85,10 90,5.6 97.5,2.5 115,1.3 115,6.3 103.8,9.4 95,10.7 87.5,11.9" fill="#88ff00"/>
<polygon points="-2.5,9.4 12.5,11.9 31.2,15 47.5,17.6 58.8,20.1 61.9,24.4 62.5,33.9 65,41.4 70,47.6 75,43.9 76.9,36.4 78.8,30.1 85,25.1 92.5,20.1 100.6,18.2 95,23.2 88.8,31.3 86.2,38.9 86.2,50.2 87.5,60.2 92.5,67.7 100,71.5 115,74 115,76.5 100,76.7 87.5,75.9 75,75 67.5,70.2 60,71.5 52.5,72.7 47.5,66.5 43.8,58.9 42.5,50.2 40,42.6 32.5,36.4 22.5,32.6 10,29.5 -2.5,28.6" fill="#88ff00"/>
<polygon points="103.8,29.5 107.5,22.6 110.6,18.2 115,17.6 115,29.5" fill="#88ff00"/>
<polygon points="-2.5,77.7 5,79.6 -2.5,80.9" fill="#88ff00"/>
<polygon points="-2.5,2.5 25,3.1 25,7.5 12.5,6.3 -2.5,5" fill="#00ffff"/>
<polygon points="-2.5,1.3 16.2,1.5 16.2,5.6 7.5,4.4 -2.5,3.1" fill="#0055ff"/>
<polygon points="12.5,-0.6 20,-0.6 20,1.5 12.5,1.5" fill="#ff2222"/>
<polygon points="25,1.3 37.5,1.3 37.5,3.1 25,3.1" fill="#ffaa00"/>
<polygon points="35,2.5 47.5,2.8 47.5,6.9 41.2,5.6" fill="#ffff00"/>
<polygon points="92.5,2.5 102.5,2.5 102.5,7.5 95,6.9" fill="#ffff00"/>
<polygon points="100,1 115,1 115,3.8 101.2,3.8" fill="#ffaa00"/>
<polygon points="102.5,6 115,5.6 115,10 105,9.8" fill="#00ffff"/>
</g>
<clipPath id="c23"><rect x="0" y="0" width="113" height="82"/></clipPath>
<g transform="translate(701,392)" clip-path="url(#c23)">
<rect x="-1" y="-1" width="115" height="84" fill="#88ff00"/>
<polygon points="-2.5,7.5 12.5,3.8 31.2,3.1 22.5,5.6 12.5,11.3 -2.5,17.6" fill="#00ff88"/>
<polygon points="7.5,6.9 11.9,6.3 11.9,10.7 7.5,10.7" fill="#88ff00"/>
<polygon points="-2.5,2.5 6.2,2.5 6.2,6.3 -2.5,6.3" fill="#00ffff"/>
<polygon points="15,1 60,1 60,2.5 15,2.5" fill="#0055ff"/>
<polygon points="-2.5,30.1 7.5,28.2 18.8,28.2 25,30.7 31.2,36.4 36.2,42.6 37.5,48.9 34.4,53.9 33.8,66.5 30,71.5 18.8,74 -2.5,74.6" fill="#00ff88"/>
<polygon points="58.8,27.6 61.2,23.8 70,21.6 70,37 62.5,33.9 60,30.7" fill="#00ff88"/>
<polygon points="-2.5,76.7 12.5,77.1 18.8,78.4 18.8,82.8 -2.5,82.8" fill="#00ff88"/>
</g>
</g>
<g shape-rendering="crispEdges">
<path d="M136 157H768V473H136Z" fill="none" stroke="#000" stroke-width="2"/>
<rect x="147" y="468" width="1" height="4"/><rect x="147" y="158" width="1" height="4"/><rect x="159" y="468" width="1" height="4"/><rect x="159" y="158" width="1" height="4"/><rect x="172" y="468" width="1" height="4"/><rect x="172" y="158" width="1" height="4"/><rect x="185" y="468" width="1" height="4"/><rect x="185" y="158" width="1" height="4"/><rect x="197" y="463" width="2" height="9"/><rect x="197" y="158" width="2" height="9"/><rect x="210" y="468" width="1" height="4"/><rect x="210" y="158" width="1" height="4"/><rect x="223" y="468" width="1" height="4"/><rect x="223" y="158" width="1" height="4"/><rect x="236" y="468" width="1" height="4"/><rect x="236" y="158" width="1" height="4"/><rect x="248" y="468" width="1" height="4"/><rect x="248" y="158" width="1" height="4"/><rect x="261" y="463" width="2" height="9"/><rect x="261" y="158" width="2" height="9"/><rect x="274" y="468" width="1" height="4"/><rect x="274" y="158" width="1" height="4"/><rect x="286" y="468" width="1" height="4"/><rect x="286" y="158" width="1" height="4"/><rect x="299" y="468" width="1" height="4"/><rect x="299" y="158" width="1" height="4"/><rect x="312" y="468" width="1" height="4"/><rect x="312" y="158" width="1" height="4"/><rect x="324" y="463" width="2" height="9"/><rect x="324" y="158" width="2" height="9"/><rect x="337" y="468" width="1" height="4"/><rect x="337" y="158" width="1" height="4"/><rect x="350" y="468" width="1" height="4"/><rect x="350" y="158" width="1" height="4"/><rect x="363" y="468" width="1" height="4"/><rect x="363" y="158" width="1" height="4"/><rect x="375" y="468" width="1" height="4"/><rect x="375" y="158" width="1" height="4"/><rect x="388" y="463" width="2" height="9"/><rect x="388" y="158" width="2" height="9"/><rect x="401" y="468" width="1" height="4"/><rect x="401" y="158" width="1" height="4"/><rect x="414" y="468" width="1" height="4"/><rect x="414" y="158" width="1" height="4"/><rect x="426" y="468" width="1" height="4"/><rect x="426" y="158" width="1" height="4"/><rect x="439" y="468" width="1" height="4"/><rect x="439" y="158" width="1" height="4"/><rect x="451" y="463" width="2" height="9"/><rect x="451" y="158" width="2" height="9"/><rect x="464" y="468" width="1" height="4"/><rect x="464" y="158" width="1" height="4"/><rect x="477" y="468" width="1" height="4"/><rect x="477" y="158" width="1" height="4"/><rect x="490" y="468" width="1" height="4"/><rect x="490" y="158" width="1" height="4"/><rect x="503" y="468" width="1" height="4"/><rect x="503" y="158" width="1" height="4"/><rect x="515" y="463" width="2" height="9"/><rect x="515" y="158" width="2" height="9"/><rect x="528" y="468" width="1" height="4"/><rect x="528" y="158" width="1" height="4"/><rect x="541" y="468" width="1" height="4"/><rect x="541" y="158" width="1" height="4"/><rect x="553" y="468" width="1" height="4"/><rect x="553" y="158" width="1" height="4"/><rect x="566" y="468" width="1" height="4"/><rect x="566" y="158" width="1" height="4"/><rect x="578" y="463" width="2" height="9"/><rect x="578" y="158" width="2" height="9"/><rect x="592" y="468" width="1" height="4"/><rect x="592" y="158" width="1" height="4"/><rect x="604" y="468" width="1" height="4"/><rect x="604" y="158" width="1" height="4"/><rect x="617" y="468" width="1" height="4"/><rect x="617" y="158" width="1" height="4"/><rect x="630" y="468" width="1" height="4"/><rect x="630" y="158" width="1" height="4"/><rect x="642" y="463" width="2" height="9"/><rect x="642" y="158" width="2" height="9"/><rect x="655" y="468" width="1" height="4"/><rect x="655" y="158" width="1" height="4"/><rect x="668" y="468" width="1" height="4"/><rect x="668" y="158" width="1" height="4"/><rect x="680" y="468" width="1" height="4"/><rect x="680" y="158" width="1" height="4"/><rect x="693" y="468" width="1" height="4"/><rect x="693" y="158" width="1" height="4"/><rect x="705" y="463" width="2" height="9"/><rect x="705" y="158" width="2" height="9"/><rect x="719" y="468" width="1" height="4"/><rect x="719" y="158" width="1" height="4"/><rect x="731" y="468" width="1" height="4"/><rect x="731" y="158" width="1" height="4"/><rect x="744" y="468" width="1" height="4"/><rect x="744" y="158" width="1" height="4"/><rect x="757" y="468" width="1" height="4"/><rect x="757" y="158" width="1" height="4"/><rect x="137" y="453" width="4" height="1"/><rect x="763" y="453" width="4" height="1"/><rect x="137" y="434" width="4" height="1"/><rect x="763" y="434" width="4" height="1"/><rect x="137" y="414" width="4" height="1"/><rect x="763" y="414" width="4" height="1"/><rect x="137" y="393" width="8" height="2"/><rect x="759" y="393" width="8" height="2"/><rect x="137" y="374" width="4" height="1"/><rect x="763" y="374" width="4" height="1"/><rect x="137" y="355" width="4" height="1"/><rect x="763" y="355" width="4" height="1"/><rect x="137" y="335" width="4" height="1"/><rect x="763" y="335" width="4" height="1"/><rect x="137" y="314" width="8" height="2"/><rect x="759" y="314" width="8" height="2"/><rect x="137" y="295" width="4" height="1"/><rect x="763" y="295" width="4" height="1"/><rect x="137" y="276" width="4" height="1"/><rect x="763" y="276" width="4" height="1"/><rect x="137" y="256" width="4" height="1"/><rect x="763" y="256" width="4" height="1"/><rect x="137" y="235" width="8" height="2"/><rect x="759" y="235" width="8" height="2"/><rect x="137" y="216" width="4" height="1"/><rect x="763" y="216" width="4" height="1"/><rect x="137" y="197" width="4" height="1"/><rect x="763" y="197" width="4" height="1"/><rect x="137" y="177" width="4" height="1"/><rect x="763" y="177" width="4" height="1"/>
<rect x="784" y="247" width="18" height="23" fill="#ff2222"/>
<rect x="784" y="270" width="18" height="22" fill="#ff5500"/>
<rect x="784" y="292" width="18" height="23" fill="#ffaa00"/>
<rect x="784" y="315" width="18" height="23" fill="#ffff00"/>
<rect x="784" y="338" width="18" height="22" fill="#88ff00"/>
<rect x="784" y="360" width="18" height="23" fill="#00ff88"/>
<rect x="784" y="383" width="18" height="22" fill="#00ffff"/>
<rect x="784" y="405" width="18" height="23" fill="#0055ff"/>
<rect x="784" y="428" width="18" height="23" fill="#0000aa"/>
<rect x="784" y="451" width="18" height="22" fill="#3300aa"/>
<rect x="783" y="246" width="20" height="2"/>
<rect x="783" y="269" width="20" height="2"/>
<rect x="783" y="291" width="20" height="2"/>
<rect x="783" y="314" width="20" height="2"/>
<rect x="783" y="337" width="20" height="2"/>
<rect x="783" y="359" width="20" height="2"/>
<rect x="783" y="382" width="20" height="2"/>
<rect x="783" y="404" width="20" height="2"/>
<rect x="783" y="427" width="20" height="2"/>
<rect x="783" y="450" width="20" height="2"/>
<rect x="783" y="472" width="20" height="2"/>
<rect x="783" y="246" width="2" height="228"/><rect x="801" y="246" width="2" height="228"/>
</g>
<path d="M784 247L793 207L802 247Z" fill="#ffaaaa" stroke="#000" stroke-width="1.6" stroke-linejoin="miter"/>
<path d="M784 473L793 514L802 473Z" fill="#8800aa" stroke="#000" stroke-width="1.6" stroke-linejoin="miter"/>
<text class="thin" x="224" y="112" font-size="28" textLength="455.5" lengthAdjust="spacing">potential temperature deviation</text>
<text class="bold" x="47.2" y="134.8" font-size="16.8" textLength="85.3" lengthAdjust="spacing">(×1E4 m)</text>
<text class="bold" x="689.3" y="517.2" font-size="16.8" textLength="86.5" lengthAdjust="spacing">(×1E4 m)</text>
<text class="thin2" x="777.8" y="168.8" font-size="16.6" textLength="120.5" lengthAdjust="spacing">t=4.6368e+06</text>
<text class="thinm" x="378" y="546" font-size="22" textLength="148.5" lengthAdjust="spacing">X coordinate</text>
<text class="thinm" transform="translate(98.8,388.5) rotate(-90)" font-size="22" textLength="147.5" lengthAdjust="spacing">Z coordinate</text>
<text class="bold" x="197" y="494.6" font-size="17" text-anchor="middle">1</text>
<text class="bold" x="260.6" y="494.6" font-size="17" text-anchor="middle">2</text>
<text class="bold" x="324.1" y="494.6" font-size="17" text-anchor="middle">3</text>
<text class="bold" x="387.6" y="494.6" font-size="17" text-anchor="middle">4</text>
<text class="bold" x="451.2" y="494.6" font-size="17" text-anchor="middle">5</text>
<text class="bold" x="514.8" y="494.6" font-size="17" text-anchor="middle">6</text>
<text class="bold" x="578.3" y="494.6" font-size="17" text-anchor="middle">7</text>
<text class="bold" x="641.8" y="494.6" font-size="17" text-anchor="middle">8</text>
<text class="bold" x="705.4" y="494.6" font-size="17" text-anchor="middle">9</text>
<text class="bold" x="126.6" y="398.8" font-size="17" text-anchor="end">2</text>
<text class="bold" x="126.6" y="319.8" font-size="17" text-anchor="end">4</text>
<text class="bold" x="126.6" y="240.8" font-size="17" text-anchor="end">6</text>
<text class="bold" x="810.3" y="274.9" font-size="17" textLength="35.6" lengthAdjust="spacing">0.32</text>
<text class="bold" x="810.3" y="320.2" font-size="17" textLength="35.6" lengthAdjust="spacing">0.16</text>
<text class="bold" x="810.3" y="365.5" font-size="17">0</text>
<text class="bold" x="810.3" y="410.8" font-size="17" textLength="48.2" lengthAdjust="spacing">−0.16</text>
<text class="bold" x="810.3" y="456.1" font-size="17" textLength="48.2" lengthAdjust="spacing">−0.32</text>
</svg></body></html>
